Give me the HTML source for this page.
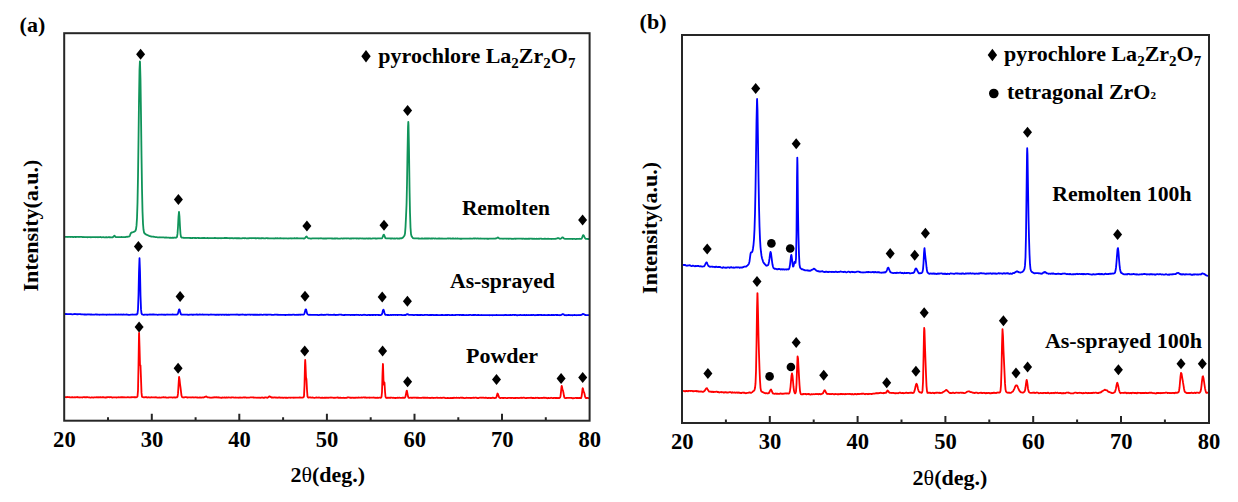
<!DOCTYPE html>
<html><head><meta charset="utf-8"><style>
html,body{margin:0;padding:0;background:#fff;}
body{width:1238px;height:502px;overflow:hidden;}
svg{display:block;}
</style></head><body>
<svg width="1238" height="502" viewBox="0 0 1238 502"><rect width="100%" height="100%" fill="#fff"/><path d="M64.50,236.79 L65.00,236.92 L65.50,236.97 L66.00,236.87 L66.50,236.89 L67.00,236.89 L67.50,236.94 L68.00,237.00 L68.50,236.86 L69.00,236.78 L69.50,236.94 L70.00,236.92 L70.50,237.00 L71.00,236.85 L71.50,236.89 L72.00,236.98 L72.50,236.90 L73.00,237.05 L73.50,237.11 L74.00,236.93 L74.50,236.83 L75.00,236.92 L75.50,237.07 L76.00,237.00 L76.50,236.93 L77.00,236.95 L77.50,236.86 L78.00,236.87 L78.50,236.93 L79.00,236.98 L79.50,236.94 L80.00,236.92 L80.50,236.91 L81.00,236.96 L81.50,236.95 L82.00,236.88 L82.50,237.05 L83.00,237.07 L83.50,237.10 L84.00,237.01 L84.50,237.16 L85.00,237.21 L85.50,237.05 L86.00,237.03 L86.50,237.12 L87.00,237.16 L87.50,237.24 L88.00,237.15 L88.50,237.21 L89.00,237.21 L89.50,237.11 L90.00,237.14 L90.50,237.23 L91.00,237.27 L91.50,237.20 L92.00,237.19 L92.50,237.05 L93.00,237.03 L93.50,237.17 L94.00,237.14 L94.50,237.07 L95.00,237.13 L95.50,237.20 L96.00,237.23 L96.50,237.17 L97.00,237.16 L97.50,237.17 L98.00,237.25 L98.50,237.22 L99.00,237.18 L99.50,237.18 L100.00,237.07 L100.50,237.02 L101.00,237.16 L101.50,237.30 L102.00,237.28 L102.50,237.22 L103.00,237.13 L103.50,237.18 L104.00,237.32 L104.50,237.34 L105.00,237.29 L105.50,237.35 L106.00,237.22 L106.50,237.23 L107.00,237.34 L107.50,237.31 L108.00,237.26 L108.50,237.19 L109.00,237.22 L109.50,237.34 L110.00,237.16 L110.50,237.27 L111.00,237.33 L111.50,237.38 L112.00,237.36 L112.50,237.34 L113.00,237.12 L113.50,236.66 L114.00,235.98 L114.50,235.64 L115.00,236.25 L115.50,236.85 L116.00,237.06 L116.50,237.17 L117.00,237.19 L117.50,237.16 L118.00,237.14 L118.50,237.17 L119.00,237.21 L119.50,237.22 L120.00,237.18 L120.50,237.05 L121.00,237.03 L121.50,236.99 L122.00,237.07 L122.50,237.17 L123.00,237.20 L123.50,237.20 L124.00,237.20 L124.50,237.04 L125.00,237.10 L125.50,237.07 L126.00,236.89 L126.50,236.77 L127.00,236.69 L127.50,236.81 L128.00,236.72 L128.50,236.60 L129.00,236.58 L129.50,236.24 L130.00,235.31 L130.50,233.93 L131.00,233.01 L131.50,232.54 L132.00,232.34 L132.50,232.31 L133.00,232.16 L133.50,231.97 L134.00,231.80 L134.50,231.47 L135.00,231.18 L135.50,230.60 L136.00,229.13 L136.50,225.64 L137.00,218.11 L137.50,202.96 L138.00,176.83 L138.50,140.19 L139.00,100.38 L139.50,70.02 L139.90,61.50 L140.00,61.84 L140.50,79.68 L141.00,115.12 L141.50,155.14 L142.00,188.65 L142.50,211.14 L143.00,223.60 L143.50,229.70 L144.00,232.26 L144.50,233.27 L145.00,233.71 L145.50,234.14 L146.00,234.41 L146.50,234.72 L147.00,234.93 L147.50,235.22 L148.00,235.32 L148.50,235.52 L149.00,235.86 L149.50,236.08 L150.00,236.11 L150.50,236.32 L151.00,236.35 L151.50,236.56 L152.00,236.67 L152.50,236.67 L153.00,236.67 L153.50,236.65 L154.00,236.88 L154.50,236.81 L155.00,237.00 L155.50,237.15 L156.00,237.16 L156.50,237.08 L157.00,237.23 L157.50,237.35 L158.00,237.36 L158.50,237.33 L159.00,237.30 L159.50,237.29 L160.00,237.26 L160.50,237.37 L161.00,237.38 L161.50,237.33 L162.00,237.30 L162.50,237.43 L163.00,237.41 L163.50,237.47 L164.00,237.45 L164.50,237.59 L165.00,237.68 L165.50,237.51 L166.00,237.47 L166.50,237.49 L167.00,237.68 L167.50,237.72 L168.00,237.64 L168.50,237.57 L169.00,237.66 L169.50,237.75 L170.00,237.82 L170.50,237.71 L171.00,237.80 L171.50,237.79 L172.00,237.74 L172.50,237.85 L173.00,237.71 L173.50,237.77 L174.00,237.64 L174.50,237.59 L175.00,237.75 L175.50,237.64 L176.00,237.71 L176.50,237.57 L177.00,236.88 L177.50,233.88 L178.00,226.69 L178.50,216.80 L179.00,211.80 L179.50,216.93 L180.00,226.89 L180.50,234.06 L181.00,236.82 L181.50,237.60 L182.00,237.65 L182.50,237.63 L183.00,237.63 L183.50,237.83 L184.00,237.92 L184.50,237.98 L185.00,237.89 L185.50,237.92 L186.00,237.98 L186.50,237.91 L187.00,237.93 L187.50,237.86 L188.00,237.79 L188.50,237.80 L189.00,237.97 L189.50,237.97 L190.00,238.07 L190.50,238.00 L191.00,237.93 L191.50,238.02 L192.00,238.08 L192.50,237.91 L193.00,237.99 L193.50,237.89 L194.00,237.85 L194.50,238.02 L195.00,237.90 L195.50,237.89 L196.00,238.07 L196.50,238.03 L197.00,237.93 L197.50,237.90 L198.00,237.90 L198.50,238.03 L199.00,237.94 L199.50,238.10 L200.00,238.05 L200.50,238.17 L201.00,238.21 L201.50,238.09 L202.00,238.01 L202.50,238.03 L203.00,237.95 L203.50,238.05 L204.00,237.94 L204.50,237.89 L205.00,238.10 L205.50,238.04 L206.00,238.08 L206.50,238.07 L207.00,238.03 L207.50,237.95 L208.00,238.12 L208.50,238.22 L209.00,238.27 L209.50,238.09 L210.00,238.02 L210.50,238.09 L211.00,238.21 L211.50,238.17 L212.00,238.18 L212.50,238.19 L213.00,238.09 L213.50,238.11 L214.00,238.06 L214.50,238.02 L215.00,237.97 L215.50,237.99 L216.00,238.17 L216.50,238.13 L217.00,238.17 L217.50,238.18 L218.00,238.26 L218.50,238.17 L219.00,238.10 L219.50,238.07 L220.00,238.06 L220.50,238.18 L221.00,238.26 L221.50,238.15 L222.00,238.10 L222.50,238.14 L223.00,238.16 L223.50,238.18 L224.00,238.10 L224.50,238.01 L225.00,238.01 L225.50,237.98 L226.00,238.08 L226.50,238.01 L227.00,237.98 L227.50,238.10 L228.00,238.08 L228.50,238.20 L229.00,238.18 L229.50,238.26 L230.00,238.13 L230.50,238.15 L231.00,238.24 L231.50,238.10 L232.00,238.25 L232.50,238.13 L233.00,238.23 L233.50,238.33 L234.00,238.34 L234.50,238.22 L235.00,238.10 L235.50,238.15 L236.00,238.28 L236.50,238.18 L237.00,238.29 L237.50,238.15 L238.00,238.28 L238.50,238.12 L239.00,238.12 L239.50,238.26 L240.00,238.31 L240.50,238.36 L241.00,238.37 L241.50,238.35 L242.00,238.33 L242.50,238.19 L243.00,238.19 L243.50,238.12 L244.00,238.22 L244.50,238.26 L245.00,238.18 L245.50,238.09 L246.00,238.27 L246.50,238.33 L247.00,238.29 L247.50,238.27 L248.00,238.34 L248.50,238.27 L249.00,238.23 L249.50,238.19 L250.00,238.15 L250.50,238.08 L251.00,238.20 L251.50,238.20 L252.00,238.24 L252.50,238.13 L253.00,238.15 L253.50,238.11 L254.00,238.09 L254.50,238.11 L255.00,238.26 L255.50,238.23 L256.00,238.22 L256.50,238.27 L257.00,238.20 L257.50,238.11 L258.00,238.19 L258.50,238.23 L259.00,238.28 L259.50,238.26 L260.00,238.31 L260.50,238.35 L261.00,238.25 L261.50,238.26 L262.00,238.26 L262.50,238.20 L263.00,238.22 L263.50,238.26 L264.00,238.38 L264.50,238.43 L265.00,238.30 L265.50,238.33 L266.00,238.20 L266.50,238.14 L267.00,238.22 L267.50,238.35 L268.00,238.24 L268.50,238.33 L269.00,238.41 L269.50,238.31 L270.00,238.35 L270.50,238.42 L271.00,238.33 L271.50,238.37 L272.00,238.40 L272.50,238.38 L273.00,238.43 L273.50,238.47 L274.00,238.51 L274.50,238.43 L275.00,238.29 L275.50,238.24 L276.00,238.21 L276.50,238.28 L277.00,238.37 L277.50,238.23 L278.00,238.33 L278.50,238.38 L279.00,238.32 L279.50,238.33 L280.00,238.25 L280.50,238.35 L281.00,238.23 L281.50,238.40 L282.00,238.45 L282.50,238.43 L283.00,238.33 L283.50,238.44 L284.00,238.51 L284.50,238.34 L285.00,238.41 L285.50,238.47 L286.00,238.45 L286.50,238.45 L287.00,238.39 L287.50,238.48 L288.00,238.54 L288.50,238.42 L289.00,238.46 L289.50,238.40 L290.00,238.30 L290.50,238.29 L291.00,238.23 L291.50,238.40 L292.00,238.50 L292.50,238.34 L293.00,238.38 L293.50,238.35 L294.00,238.27 L294.50,238.27 L295.00,238.26 L295.50,238.38 L296.00,238.26 L296.50,238.24 L297.00,238.30 L297.50,238.22 L298.00,238.34 L298.50,238.39 L299.00,238.47 L299.50,238.36 L300.00,238.32 L300.50,238.37 L301.00,238.32 L301.50,238.38 L302.00,238.32 L302.50,238.40 L303.00,238.47 L303.50,238.50 L304.00,238.55 L304.50,238.39 L305.00,238.06 L305.50,237.51 L306.00,236.78 L306.50,236.50 L307.00,236.95 L307.50,237.64 L308.00,238.04 L308.50,238.36 L309.00,238.30 L309.50,238.41 L310.00,238.42 L310.50,238.53 L311.00,238.53 L311.50,238.58 L312.00,238.40 L312.50,238.40 L313.00,238.42 L313.50,238.37 L314.00,238.39 L314.50,238.36 L315.00,238.39 L315.50,238.28 L316.00,238.33 L316.50,238.36 L317.00,238.33 L317.50,238.35 L318.00,238.45 L318.50,238.48 L319.00,238.44 L319.50,238.47 L320.00,238.41 L320.50,238.34 L321.00,238.25 L321.50,238.28 L322.00,238.37 L322.50,238.49 L323.00,238.54 L323.50,238.48 L324.00,238.57 L324.50,238.49 L325.00,238.54 L325.50,238.46 L326.00,238.50 L326.50,238.58 L327.00,238.45 L327.50,238.36 L328.00,238.42 L328.50,238.43 L329.00,238.39 L329.50,238.28 L330.00,238.33 L330.50,238.36 L331.00,238.37 L331.50,238.49 L332.00,238.48 L332.50,238.51 L333.00,238.57 L333.50,238.56 L334.00,238.49 L334.50,238.52 L335.00,238.51 L335.50,238.51 L336.00,238.50 L336.50,238.44 L337.00,238.47 L337.50,238.48 L338.00,238.57 L338.50,238.57 L339.00,238.59 L339.50,238.58 L340.00,238.59 L340.50,238.54 L341.00,238.45 L341.50,238.38 L342.00,238.46 L342.50,238.54 L343.00,238.50 L343.50,238.38 L344.00,238.49 L344.50,238.46 L345.00,238.44 L345.50,238.33 L346.00,238.39 L346.50,238.48 L347.00,238.44 L347.50,238.40 L348.00,238.46 L348.50,238.33 L349.00,238.39 L349.50,238.53 L350.00,238.53 L350.50,238.47 L351.00,238.50 L351.50,238.50 L352.00,238.40 L352.50,238.35 L353.00,238.50 L353.50,238.41 L354.00,238.33 L354.50,238.47 L355.00,238.47 L355.50,238.42 L356.00,238.44 L356.50,238.51 L357.00,238.40 L357.50,238.46 L358.00,238.51 L358.50,238.56 L359.00,238.45 L359.50,238.48 L360.00,238.40 L360.50,238.44 L361.00,238.37 L361.50,238.48 L362.00,238.56 L362.50,238.47 L363.00,238.39 L363.50,238.54 L364.00,238.55 L364.50,238.59 L365.00,238.41 L365.50,238.53 L366.00,238.53 L366.50,238.45 L367.00,238.44 L367.50,238.51 L368.00,238.56 L368.50,238.43 L369.00,238.48 L369.50,238.39 L370.00,238.54 L370.50,238.49 L371.00,238.58 L371.50,238.58 L372.00,238.55 L372.50,238.45 L373.00,238.46 L373.50,238.37 L374.00,238.33 L374.50,238.45 L375.00,238.42 L375.50,238.51 L376.00,238.42 L376.50,238.50 L377.00,238.54 L377.50,238.45 L378.00,238.36 L378.50,238.39 L379.00,238.42 L379.50,238.34 L380.00,238.32 L380.50,238.28 L381.00,238.38 L381.50,238.47 L382.00,238.15 L382.50,237.38 L383.00,236.15 L383.50,234.84 L384.00,234.76 L384.50,235.95 L385.00,237.30 L385.50,238.20 L386.00,238.33 L386.50,238.47 L387.00,238.37 L387.50,238.39 L388.00,238.43 L388.50,238.42 L389.00,238.36 L389.50,238.35 L390.00,238.49 L390.50,238.47 L391.00,238.49 L391.50,238.40 L392.00,238.49 L392.50,238.43 L393.00,238.47 L393.50,238.57 L394.00,238.64 L394.50,238.44 L395.00,238.52 L395.50,238.58 L396.00,238.47 L396.50,238.43 L397.00,238.46 L397.50,238.56 L398.00,238.47 L398.50,238.55 L399.00,238.55 L399.50,238.40 L400.00,238.50 L400.50,238.32 L401.00,238.25 L401.50,238.31 L402.00,238.12 L402.50,237.95 L403.00,237.48 L403.50,236.84 L404.00,236.16 L404.50,235.47 L405.00,233.60 L405.50,227.12 L406.00,217.00 L406.50,205.57 L406.60,202.43 L407.00,184.01 L407.50,153.13 L408.00,127.29 L408.30,121.90 L408.50,124.58 L409.00,150.16 L409.50,186.06 L409.60,192.33 L410.00,212.46 L410.50,227.50 L411.00,234.05 L411.50,235.98 L412.00,236.89 L412.50,237.50 L413.00,238.07 L413.50,238.26 L414.00,238.30 L414.50,238.38 L415.00,238.41 L415.50,238.42 L416.00,238.32 L416.50,238.35 L417.00,238.38 L417.50,238.34 L418.00,238.50 L418.50,238.46 L419.00,238.51 L419.50,238.55 L420.00,238.58 L420.50,238.59 L421.00,238.60 L421.50,238.48 L422.00,238.61 L422.50,238.46 L423.00,238.59 L423.50,238.63 L424.00,238.65 L424.50,238.47 L425.00,238.38 L425.50,238.52 L426.00,238.51 L426.50,238.48 L427.00,238.61 L427.50,238.45 L428.00,238.49 L428.50,238.49 L429.00,238.41 L429.50,238.44 L430.00,238.53 L430.50,238.62 L431.00,238.45 L431.50,238.49 L432.00,238.40 L432.50,238.54 L433.00,238.43 L433.50,238.36 L434.00,238.41 L434.50,238.53 L435.00,238.48 L435.50,238.41 L436.00,238.54 L436.50,238.61 L437.00,238.66 L437.50,238.55 L438.00,238.52 L438.50,238.46 L439.00,238.51 L439.50,238.48 L440.00,238.47 L440.50,238.57 L441.00,238.67 L441.50,238.62 L442.00,238.48 L442.50,238.55 L443.00,238.53 L443.50,238.66 L444.00,238.65 L444.50,238.68 L445.00,238.66 L445.50,238.61 L446.00,238.67 L446.50,238.69 L447.00,238.56 L447.50,238.47 L448.00,238.47 L448.50,238.51 L449.00,238.43 L449.50,238.45 L450.00,238.52 L450.50,238.42 L451.00,238.56 L451.50,238.59 L452.00,238.52 L452.50,238.49 L453.00,238.48 L453.50,238.47 L454.00,238.57 L454.50,238.56 L455.00,238.56 L455.50,238.47 L456.00,238.61 L456.50,238.54 L457.00,238.50 L457.50,238.42 L458.00,238.61 L458.50,238.58 L459.00,238.67 L459.50,238.72 L460.00,238.76 L460.50,238.74 L461.00,238.75 L461.50,238.76 L462.00,238.74 L462.50,238.56 L463.00,238.56 L463.50,238.58 L464.00,238.69 L464.50,238.70 L465.00,238.68 L465.50,238.68 L466.00,238.59 L466.50,238.69 L467.00,238.66 L467.50,238.59 L468.00,238.57 L468.50,238.69 L469.00,238.63 L469.50,238.52 L470.00,238.45 L470.50,238.56 L471.00,238.58 L471.50,238.68 L472.00,238.54 L472.50,238.53 L473.00,238.61 L473.50,238.48 L474.00,238.42 L474.50,238.51 L475.00,238.48 L475.50,238.43 L476.00,238.44 L476.50,238.54 L477.00,238.56 L477.50,238.46 L478.00,238.41 L478.50,238.58 L479.00,238.62 L479.50,238.51 L480.00,238.64 L480.50,238.49 L481.00,238.50 L481.50,238.63 L482.00,238.66 L482.50,238.56 L483.00,238.67 L483.50,238.65 L484.00,238.71 L484.50,238.74 L485.00,238.64 L485.50,238.66 L486.00,238.63 L486.50,238.72 L487.00,238.73 L487.50,238.71 L488.00,238.73 L488.50,238.78 L489.00,238.62 L489.50,238.53 L490.00,238.62 L490.50,238.67 L491.00,238.63 L491.50,238.61 L492.00,238.57 L492.50,238.68 L493.00,238.71 L493.50,238.67 L494.00,238.51 L494.50,238.64 L495.00,238.60 L495.50,238.50 L496.00,238.44 L496.50,238.38 L497.00,237.97 L497.50,237.60 L498.00,237.47 L498.50,237.79 L499.00,238.18 L499.50,238.54 L500.00,238.62 L500.50,238.64 L501.00,238.64 L501.50,238.63 L502.00,238.63 L502.50,238.70 L503.00,238.77 L503.50,238.67 L504.00,238.68 L504.50,238.60 L505.00,238.56 L505.50,238.59 L506.00,238.63 L506.50,238.64 L507.00,238.76 L507.50,238.61 L508.00,238.66 L508.50,238.77 L509.00,238.76 L509.50,238.72 L510.00,238.65 L510.50,238.62 L511.00,238.75 L511.50,238.80 L512.00,238.77 L512.50,238.81 L513.00,238.84 L513.50,238.84 L514.00,238.72 L514.50,238.68 L515.00,238.75 L515.50,238.68 L516.00,238.74 L516.50,238.70 L517.00,238.65 L517.50,238.65 L518.00,238.57 L518.50,238.59 L519.00,238.62 L519.50,238.53 L520.00,238.53 L520.50,238.55 L521.00,238.71 L521.50,238.73 L522.00,238.66 L522.50,238.80 L523.00,238.69 L523.50,238.70 L524.00,238.76 L524.50,238.78 L525.00,238.73 L525.50,238.79 L526.00,238.75 L526.50,238.79 L527.00,238.75 L527.50,238.86 L528.00,238.84 L528.50,238.68 L529.00,238.61 L529.50,238.79 L530.00,238.69 L530.50,238.60 L531.00,238.61 L531.50,238.67 L532.00,238.82 L532.50,238.76 L533.00,238.81 L533.50,238.86 L534.00,238.70 L534.50,238.76 L535.00,238.88 L535.50,238.83 L536.00,238.80 L536.50,238.75 L537.00,238.87 L537.50,238.93 L538.00,238.75 L538.50,238.78 L539.00,238.75 L539.50,238.81 L540.00,238.70 L540.50,238.68 L541.00,238.68 L541.50,238.73 L542.00,238.83 L542.50,238.90 L543.00,238.92 L543.50,238.90 L544.00,238.74 L544.50,238.74 L545.00,238.81 L545.50,238.76 L546.00,238.78 L546.50,238.90 L547.00,238.76 L547.50,238.87 L548.00,238.74 L548.50,238.75 L549.00,238.89 L549.50,238.78 L550.00,238.80 L550.50,238.79 L551.00,238.91 L551.50,238.99 L552.00,238.86 L552.50,238.84 L553.00,238.94 L553.50,238.90 L554.00,238.80 L554.50,238.88 L555.00,238.82 L555.50,238.81 L556.00,238.65 L556.50,238.69 L557.00,238.42 L557.50,238.15 L558.00,238.04 L558.50,238.05 L559.00,238.38 L559.50,238.64 L560.00,238.83 L560.50,238.86 L561.00,238.53 L561.50,238.06 L562.00,237.63 L562.50,237.36 L563.00,237.52 L563.50,238.00 L564.00,238.51 L564.50,238.78 L565.00,238.97 L565.50,238.94 L566.00,238.95 L566.50,238.83 L567.00,238.84 L567.50,238.81 L568.00,238.91 L568.50,238.85 L569.00,238.80 L569.50,238.82 L570.00,238.86 L570.50,238.84 L571.00,238.91 L571.50,238.83 L572.00,238.97 L572.50,238.99 L573.00,238.97 L573.50,238.84 L574.00,238.84 L574.50,238.93 L575.00,238.97 L575.50,239.03 L576.00,239.08 L576.50,238.96 L577.00,238.95 L577.50,238.90 L578.00,238.83 L578.50,238.79 L579.00,238.81 L579.50,238.77 L580.00,238.86 L580.50,238.94 L581.00,238.88 L581.50,238.67 L582.00,237.89 L582.50,236.61 L583.00,235.39 L583.50,235.11 L584.00,235.91 L584.50,237.14 L585.00,238.10 L585.50,238.63 L586.00,238.88 L586.50,238.84 L587.00,238.84 L587.50,238.96 L588.00,239.09 L588.50,239.00 L589.00,239.02 L589.50,239.01" fill="none" stroke="#10945a" stroke-width="1.8" stroke-linejoin="round"/><path d="M64.50,314.14 L65.00,314.22 L65.50,313.99 L66.00,313.89 L66.50,314.07 L67.00,314.14 L67.50,314.15 L68.00,314.06 L68.50,314.10 L69.00,314.13 L69.50,314.14 L70.00,314.02 L70.50,314.05 L71.00,314.05 L71.50,314.16 L72.00,314.30 L72.50,314.36 L73.00,314.27 L73.50,314.20 L74.00,314.12 L74.50,314.01 L75.00,313.96 L75.50,314.07 L76.00,314.08 L76.50,314.11 L77.00,314.29 L77.50,314.27 L78.00,314.27 L78.50,314.18 L79.00,314.08 L79.50,314.12 L80.00,314.09 L80.50,314.19 L81.00,314.39 L81.50,314.40 L82.00,314.26 L82.50,314.40 L83.00,314.45 L83.50,314.46 L84.00,314.52 L84.50,314.52 L85.00,314.52 L85.50,314.40 L86.00,314.53 L86.50,314.60 L87.00,314.39 L87.50,314.47 L88.00,314.50 L88.50,314.45 L89.00,314.45 L89.50,314.44 L90.00,314.57 L90.50,314.51 L91.00,314.58 L91.50,314.48 L92.00,314.59 L92.50,314.66 L93.00,314.56 L93.50,314.55 L94.00,314.66 L94.50,314.65 L95.00,314.58 L95.50,314.47 L96.00,314.46 L96.50,314.56 L97.00,314.46 L97.50,314.63 L98.00,314.53 L98.50,314.68 L99.00,314.58 L99.50,314.73 L100.00,314.73 L100.50,314.67 L101.00,314.64 L101.50,314.67 L102.00,314.66 L102.50,314.58 L103.00,314.51 L103.50,314.56 L104.00,314.72 L104.50,314.70 L105.00,314.53 L105.50,314.67 L106.00,314.71 L106.50,314.79 L107.00,314.61 L107.50,314.69 L108.00,314.52 L108.50,314.62 L109.00,314.55 L109.50,314.51 L110.00,314.68 L110.50,314.54 L111.00,314.59 L111.50,314.72 L112.00,314.60 L112.50,314.53 L113.00,314.70 L113.50,314.64 L114.00,314.71 L114.50,314.53 L115.00,314.55 L115.50,314.50 L116.00,314.62 L116.50,314.51 L117.00,314.71 L117.50,314.54 L118.00,314.66 L118.50,314.51 L119.00,314.51 L119.50,314.67 L120.00,314.56 L120.50,314.51 L121.00,314.64 L121.50,314.62 L122.00,314.50 L122.50,314.73 L123.00,314.59 L123.50,314.49 L124.00,314.53 L124.50,314.63 L125.00,314.72 L125.50,314.58 L126.00,314.57 L126.50,314.48 L127.00,314.56 L127.50,314.69 L128.00,314.75 L128.50,314.83 L129.00,314.82 L129.50,314.85 L130.00,314.82 L130.50,314.73 L131.00,314.62 L131.50,314.69 L132.00,314.62 L132.50,314.52 L133.00,314.57 L133.50,314.72 L134.00,314.56 L134.50,314.61 L135.00,314.57 L135.50,314.58 L136.00,314.44 L136.50,314.59 L137.00,314.34 L137.50,313.62 L138.00,309.36 L138.50,295.27 L139.00,271.67 L139.50,258.20 L140.00,271.52 L140.50,295.18 L141.00,309.15 L141.50,313.36 L142.00,314.29 L142.50,314.46 L143.00,314.67 L143.50,314.77 L144.00,314.84 L144.50,314.66 L145.00,314.63 L145.50,314.56 L146.00,314.63 L146.50,314.68 L147.00,314.76 L147.50,314.77 L148.00,314.64 L148.50,314.63 L149.00,314.65 L149.50,314.51 L150.00,314.44 L150.50,314.53 L151.00,314.48 L151.50,314.64 L152.00,314.57 L152.50,314.50 L153.00,314.48 L153.50,314.49 L154.00,314.49 L154.50,314.58 L155.00,314.61 L155.50,314.58 L156.00,314.66 L156.50,314.57 L157.00,314.74 L157.50,314.84 L158.00,314.82 L158.50,314.72 L159.00,314.69 L159.50,314.70 L160.00,314.54 L160.50,314.57 L161.00,314.62 L161.50,314.54 L162.00,314.48 L162.50,314.66 L163.00,314.61 L163.50,314.64 L164.00,314.77 L164.50,314.74 L165.00,314.63 L165.50,314.79 L166.00,314.68 L166.50,314.52 L167.00,314.64 L167.50,314.52 L168.00,314.53 L168.50,314.69 L169.00,314.72 L169.50,314.53 L170.00,314.57 L170.50,314.58 L171.00,314.60 L171.50,314.53 L172.00,314.61 L172.50,314.50 L173.00,314.50 L173.50,314.53 L174.00,314.71 L174.50,314.54 L175.00,314.66 L175.50,314.55 L176.00,314.60 L176.50,314.56 L177.00,314.51 L177.50,314.33 L178.00,313.38 L178.50,311.50 L179.00,309.62 L179.50,309.37 L180.00,311.20 L180.50,313.13 L181.00,314.31 L181.50,314.65 L182.00,314.52 L182.50,314.62 L183.00,314.70 L183.50,314.72 L184.00,314.67 L184.50,314.60 L185.00,314.60 L185.50,314.70 L186.00,314.59 L186.50,314.61 L187.00,314.61 L187.50,314.75 L188.00,314.77 L188.50,314.82 L189.00,314.82 L189.50,314.65 L190.00,314.55 L190.50,314.58 L191.00,314.52 L191.50,314.54 L192.00,314.63 L192.50,314.75 L193.00,314.70 L193.50,314.75 L194.00,314.56 L194.50,314.54 L195.00,314.72 L195.50,314.56 L196.00,314.56 L196.50,314.45 L197.00,314.40 L197.50,314.62 L198.00,314.76 L198.50,314.72 L199.00,314.55 L199.50,314.51 L200.00,314.48 L200.50,314.59 L201.00,314.65 L201.50,314.61 L202.00,314.61 L202.50,314.49 L203.00,314.56 L203.50,314.72 L204.00,314.74 L204.50,314.55 L205.00,314.59 L205.50,314.66 L206.00,314.57 L206.50,314.71 L207.00,314.65 L207.50,314.69 L208.00,314.63 L208.50,314.77 L209.00,314.78 L209.50,314.72 L210.00,314.56 L210.50,314.58 L211.00,314.46 L211.50,314.57 L212.00,314.71 L212.50,314.57 L213.00,314.60 L213.50,314.61 L214.00,314.59 L214.50,314.67 L215.00,314.78 L215.50,314.77 L216.00,314.69 L216.50,314.80 L217.00,314.67 L217.50,314.73 L218.00,314.73 L218.50,314.76 L219.00,314.81 L219.50,314.64 L220.00,314.68 L220.50,314.63 L221.00,314.69 L221.50,314.81 L222.00,314.77 L222.50,314.56 L223.00,314.59 L223.50,314.68 L224.00,314.78 L224.50,314.76 L225.00,314.80 L225.50,314.58 L226.00,314.75 L226.50,314.77 L227.00,314.74 L227.50,314.82 L228.00,314.85 L228.50,314.64 L229.00,314.74 L229.50,314.78 L230.00,314.63 L230.50,314.72 L231.00,314.72 L231.50,314.60 L232.00,314.72 L232.50,314.59 L233.00,314.66 L233.50,314.64 L234.00,314.58 L234.50,314.65 L235.00,314.65 L235.50,314.57 L236.00,314.76 L236.50,314.59 L237.00,314.48 L237.50,314.58 L238.00,314.73 L238.50,314.75 L239.00,314.79 L239.50,314.73 L240.00,314.76 L240.50,314.67 L241.00,314.61 L241.50,314.65 L242.00,314.52 L242.50,314.48 L243.00,314.66 L243.50,314.58 L244.00,314.71 L244.50,314.78 L245.00,314.71 L245.50,314.75 L246.00,314.81 L246.50,314.86 L247.00,314.67 L247.50,314.58 L248.00,314.60 L248.50,314.64 L249.00,314.61 L249.50,314.51 L250.00,314.62 L250.50,314.80 L251.00,314.71 L251.50,314.72 L252.00,314.68 L252.50,314.67 L253.00,314.80 L253.50,314.70 L254.00,314.75 L254.50,314.72 L255.00,314.73 L255.50,314.84 L256.00,314.65 L256.50,314.78 L257.00,314.69 L257.50,314.75 L258.00,314.82 L258.50,314.81 L259.00,314.73 L259.50,314.83 L260.00,314.65 L260.50,314.73 L261.00,314.69 L261.50,314.72 L262.00,314.83 L262.50,314.87 L263.00,314.83 L263.50,314.72 L264.00,314.65 L264.50,314.68 L265.00,314.62 L265.50,314.61 L266.00,314.81 L266.50,314.65 L267.00,314.79 L267.50,314.73 L268.00,314.69 L268.50,314.66 L269.00,314.57 L269.50,314.64 L270.00,314.59 L270.50,314.65 L271.00,314.63 L271.50,314.81 L272.00,314.90 L272.50,314.81 L273.00,314.82 L273.50,314.91 L274.00,314.78 L274.50,314.64 L275.00,314.62 L275.50,314.59 L276.00,314.73 L276.50,314.70 L277.00,314.69 L277.50,314.81 L278.00,314.70 L278.50,314.82 L279.00,314.83 L279.50,314.77 L280.00,314.86 L280.50,314.76 L281.00,314.88 L281.50,314.95 L282.00,314.86 L282.50,314.87 L283.00,314.95 L283.50,314.93 L284.00,314.93 L284.50,314.96 L285.00,314.99 L285.50,314.96 L286.00,315.01 L286.50,314.83 L287.00,314.84 L287.50,314.86 L288.00,314.78 L288.50,314.75 L289.00,314.66 L289.50,314.86 L290.00,314.78 L290.50,314.77 L291.00,314.89 L291.50,314.74 L292.00,314.90 L292.50,314.73 L293.00,314.62 L293.50,314.66 L294.00,314.68 L294.50,314.86 L295.00,314.94 L295.50,314.94 L296.00,314.85 L296.50,314.83 L297.00,314.73 L297.50,314.86 L298.00,314.79 L298.50,314.73 L299.00,314.80 L299.50,314.69 L300.00,314.69 L300.50,314.87 L301.00,314.71 L301.50,314.64 L302.00,314.63 L302.50,314.63 L303.00,314.67 L303.50,314.59 L304.00,314.31 L304.50,313.33 L305.00,311.43 L305.50,309.58 L306.00,309.32 L306.50,311.06 L307.00,313.20 L307.50,314.19 L308.00,314.53 L308.50,314.80 L309.00,314.79 L309.50,314.88 L310.00,314.74 L310.50,314.78 L311.00,314.90 L311.50,314.81 L312.00,314.90 L312.50,314.89 L313.00,314.83 L313.50,314.97 L314.00,314.87 L314.50,314.84 L315.00,314.87 L315.50,314.79 L316.00,314.91 L316.50,314.90 L317.00,314.89 L317.50,314.88 L318.00,315.00 L318.50,315.07 L319.00,315.05 L319.50,314.93 L320.00,314.86 L320.50,314.86 L321.00,314.71 L321.50,314.66 L322.00,314.90 L322.50,314.76 L323.00,314.94 L323.50,314.95 L324.00,315.02 L324.50,314.81 L325.00,314.77 L325.50,314.90 L326.00,314.73 L326.50,314.67 L327.00,314.72 L327.50,314.69 L328.00,314.67 L328.50,314.81 L329.00,314.71 L329.50,314.93 L330.00,314.94 L330.50,314.77 L331.00,314.93 L331.50,314.82 L332.00,314.84 L332.50,314.87 L333.00,314.76 L333.50,314.81 L334.00,314.71 L334.50,314.70 L335.00,314.91 L335.50,314.99 L336.00,314.94 L336.50,314.96 L337.00,315.03 L337.50,314.84 L338.00,314.86 L338.50,314.76 L339.00,314.70 L339.50,314.67 L340.00,314.69 L340.50,314.65 L341.00,314.68 L341.50,314.75 L342.00,314.85 L342.50,314.98 L343.00,315.05 L343.50,315.04 L344.00,314.96 L344.50,315.05 L345.00,314.87 L345.50,314.76 L346.00,314.92 L346.50,314.95 L347.00,314.83 L347.50,314.83 L348.00,314.80 L348.50,314.83 L349.00,314.84 L349.50,314.84 L350.00,314.96 L350.50,315.02 L351.00,314.98 L351.50,314.93 L352.00,314.85 L352.50,314.96 L353.00,315.08 L353.50,314.91 L354.00,314.97 L354.50,315.00 L355.00,315.00 L355.50,314.82 L356.00,314.88 L356.50,314.81 L357.00,314.77 L357.50,314.87 L358.00,314.93 L358.50,314.96 L359.00,315.01 L359.50,315.03 L360.00,314.97 L360.50,314.81 L361.00,314.95 L361.50,315.03 L362.00,315.08 L362.50,315.03 L363.00,314.84 L363.50,314.79 L364.00,314.74 L364.50,314.88 L365.00,314.92 L365.50,314.83 L366.00,315.02 L366.50,315.12 L367.00,315.15 L367.50,315.03 L368.00,314.92 L368.50,314.84 L369.00,314.99 L369.50,315.02 L370.00,314.91 L370.50,315.05 L371.00,315.02 L371.50,314.95 L372.00,314.92 L372.50,315.00 L373.00,314.96 L373.50,315.00 L374.00,314.86 L374.50,314.96 L375.00,314.89 L375.50,315.04 L376.00,314.91 L376.50,314.88 L377.00,314.93 L377.50,314.90 L378.00,314.93 L378.50,315.07 L379.00,314.92 L379.50,315.01 L380.00,315.03 L380.50,315.07 L381.00,314.94 L381.50,314.70 L382.00,313.91 L382.50,312.30 L383.00,310.30 L383.50,309.61 L384.00,311.03 L384.50,312.96 L385.00,314.27 L385.50,314.80 L386.00,314.86 L386.50,314.82 L387.00,314.92 L387.50,315.05 L388.00,314.93 L388.50,314.98 L389.00,315.03 L389.50,315.12 L390.00,315.10 L390.50,314.98 L391.00,314.89 L391.50,315.04 L392.00,314.95 L392.50,314.82 L393.00,315.01 L393.50,314.91 L394.00,314.89 L394.50,314.89 L395.00,314.86 L395.50,314.99 L396.00,314.95 L396.50,314.95 L397.00,314.95 L397.50,315.07 L398.00,314.89 L398.50,314.97 L399.00,314.87 L399.50,314.83 L400.00,314.95 L400.50,314.94 L401.00,314.84 L401.50,314.94 L402.00,315.10 L402.50,315.09 L403.00,315.04 L403.50,315.11 L404.00,315.18 L404.50,314.98 L405.00,314.91 L405.50,315.02 L406.00,314.92 L406.50,314.43 L407.00,314.17 L407.50,314.15 L408.00,314.33 L408.50,314.68 L409.00,314.89 L409.50,314.90 L410.00,314.88 L410.50,314.81 L411.00,314.96 L411.50,314.87 L412.00,314.98 L412.50,314.96 L413.00,314.96 L413.50,315.13 L414.00,315.03 L414.50,315.01 L415.00,314.97 L415.50,314.91 L416.00,314.87 L416.50,314.95 L417.00,315.07 L417.50,314.92 L418.00,315.10 L418.50,315.11 L419.00,314.92 L419.50,315.03 L420.00,314.99 L420.50,315.00 L421.00,314.89 L421.50,314.95 L422.00,314.99 L422.50,315.08 L423.00,315.07 L423.50,315.10 L424.00,315.13 L424.50,314.99 L425.00,314.86 L425.50,314.93 L426.00,314.86 L426.50,314.83 L427.00,314.87 L427.50,314.95 L428.00,315.02 L428.50,315.06 L429.00,315.17 L429.50,314.97 L430.00,315.01 L430.50,314.89 L431.00,315.00 L431.50,314.99 L432.00,314.90 L432.50,314.90 L433.00,315.01 L433.50,315.00 L434.00,315.14 L434.50,315.04 L435.00,314.98 L435.50,315.13 L436.00,315.10 L436.50,314.94 L437.00,315.07 L437.50,315.00 L438.00,315.15 L438.50,315.12 L439.00,315.16 L439.50,315.21 L440.00,315.12 L440.50,315.21 L441.00,314.97 L441.50,314.95 L442.00,315.09 L442.50,314.91 L443.00,315.02 L443.50,315.17 L444.00,315.16 L444.50,315.20 L445.00,314.99 L445.50,315.02 L446.00,315.05 L446.50,315.02 L447.00,315.00 L447.50,315.10 L448.00,314.96 L448.50,314.86 L449.00,314.97 L449.50,315.14 L450.00,315.18 L450.50,315.16 L451.00,315.03 L451.50,315.15 L452.00,314.95 L452.50,314.91 L453.00,315.06 L453.50,315.16 L454.00,315.07 L454.50,315.17 L455.00,314.98 L455.50,315.04 L456.00,314.90 L456.50,314.89 L457.00,314.87 L457.50,314.80 L458.00,314.89 L458.50,314.96 L459.00,314.93 L459.50,315.03 L460.00,314.89 L460.50,314.97 L461.00,315.01 L461.50,314.99 L462.00,315.14 L462.50,314.97 L463.00,314.98 L463.50,315.00 L464.00,314.98 L464.50,315.15 L465.00,315.11 L465.50,315.08 L466.00,315.04 L466.50,315.02 L467.00,315.16 L467.50,315.19 L468.00,315.16 L468.50,315.00 L469.00,315.04 L469.50,314.93 L470.00,314.94 L470.50,314.84 L471.00,315.00 L471.50,315.16 L472.00,315.14 L472.50,315.11 L473.00,315.00 L473.50,315.00 L474.00,315.01 L474.50,315.00 L475.00,314.95 L475.50,314.91 L476.00,315.05 L476.50,315.18 L477.00,315.21 L477.50,315.16 L478.00,314.96 L478.50,314.94 L479.00,315.09 L479.50,315.21 L480.00,315.14 L480.50,315.11 L481.00,315.13 L481.50,315.01 L482.00,315.09 L482.50,315.03 L483.00,315.14 L483.50,315.08 L484.00,315.11 L484.50,315.09 L485.00,315.08 L485.50,315.05 L486.00,315.18 L486.50,315.19 L487.00,315.09 L487.50,315.07 L488.00,315.18 L488.50,315.19 L489.00,315.16 L489.50,315.24 L490.00,315.03 L490.50,315.07 L491.00,315.10 L491.50,315.06 L492.00,315.19 L492.50,315.26 L493.00,315.12 L493.50,315.12 L494.00,315.16 L494.50,315.17 L495.00,315.07 L495.50,315.15 L496.00,315.05 L496.50,314.95 L497.00,315.05 L497.50,315.09 L498.00,315.05 L498.50,315.05 L499.00,315.20 L499.50,315.22 L500.00,315.11 L500.50,315.20 L501.00,315.15 L501.50,315.07 L502.00,315.11 L502.50,315.17 L503.00,315.23 L503.50,315.19 L504.00,315.17 L504.50,315.08 L505.00,314.93 L505.50,314.98 L506.00,314.90 L506.50,315.11 L507.00,315.04 L507.50,315.08 L508.00,315.14 L508.50,315.00 L509.00,315.13 L509.50,315.04 L510.00,314.92 L510.50,315.02 L511.00,315.01 L511.50,315.16 L512.00,315.09 L512.50,314.95 L513.00,314.86 L513.50,314.82 L514.00,314.94 L514.50,315.06 L515.00,314.93 L515.50,314.94 L516.00,315.00 L516.50,315.15 L517.00,315.25 L517.50,315.27 L518.00,315.21 L518.50,315.16 L519.00,315.03 L519.50,315.08 L520.00,314.97 L520.50,314.96 L521.00,315.11 L521.50,315.11 L522.00,315.15 L522.50,315.10 L523.00,315.02 L523.50,315.04 L524.00,315.08 L524.50,314.99 L525.00,315.13 L525.50,315.24 L526.00,315.06 L526.50,314.99 L527.00,315.12 L527.50,315.16 L528.00,315.03 L528.50,315.08 L529.00,314.99 L529.50,315.14 L530.00,315.13 L530.50,315.10 L531.00,314.98 L531.50,315.00 L532.00,315.03 L532.50,315.01 L533.00,314.94 L533.50,314.92 L534.00,315.05 L534.50,315.19 L535.00,315.23 L535.50,315.19 L536.00,315.22 L536.50,315.03 L537.00,314.97 L537.50,315.08 L538.00,314.93 L538.50,314.88 L539.00,315.06 L539.50,314.97 L540.00,314.93 L540.50,314.97 L541.00,315.12 L541.50,314.95 L542.00,315.13 L542.50,315.04 L543.00,315.08 L543.50,315.07 L544.00,314.96 L544.50,315.16 L545.00,315.02 L545.50,315.14 L546.00,315.22 L546.50,315.14 L547.00,315.24 L547.50,315.03 L548.00,314.95 L548.50,315.01 L549.00,314.92 L549.50,315.09 L550.00,315.09 L550.50,315.18 L551.00,315.06 L551.50,314.93 L552.00,315.12 L552.50,315.01 L553.00,315.02 L553.50,314.94 L554.00,315.04 L554.50,315.05 L555.00,314.97 L555.50,314.89 L556.00,314.94 L556.50,315.09 L557.00,314.98 L557.50,314.95 L558.00,315.05 L558.50,315.11 L559.00,315.18 L559.50,315.18 L560.00,315.23 L560.50,315.04 L561.00,315.13 L561.50,314.78 L562.00,314.43 L562.50,314.05 L563.00,314.07 L563.50,314.24 L564.00,314.71 L564.50,315.08 L565.00,315.25 L565.50,315.22 L566.00,315.11 L566.50,315.24 L567.00,315.23 L567.50,315.07 L568.00,315.09 L568.50,314.95 L569.00,314.87 L569.50,315.02 L570.00,315.12 L570.50,315.21 L571.00,315.23 L571.50,315.05 L572.00,315.14 L572.50,315.26 L573.00,315.23 L573.50,315.15 L574.00,315.06 L574.50,314.94 L575.00,315.06 L575.50,315.21 L576.00,315.04 L576.50,315.16 L577.00,315.24 L577.50,315.12 L578.00,315.21 L578.50,315.05 L579.00,315.01 L579.50,315.07 L580.00,315.19 L580.50,315.13 L581.00,314.92 L581.50,314.92 L582.00,314.56 L582.50,314.20 L583.00,313.87 L583.50,314.03 L584.00,314.34 L584.50,314.67 L585.00,314.91 L585.50,315.00 L586.00,315.10 L586.50,315.20 L587.00,315.10 L587.50,315.22 L588.00,315.21 L588.50,315.11 L589.00,315.01 L589.50,315.19" fill="none" stroke="#0000ff" stroke-width="1.8" stroke-linejoin="round"/><path d="M64.50,397.10 L65.00,397.17 L65.50,397.13 L66.00,397.21 L66.50,397.26 L67.00,397.06 L67.50,396.94 L68.00,397.21 L68.50,397.11 L69.00,397.06 L69.50,397.33 L70.00,397.26 L70.50,397.37 L71.00,397.28 L71.50,397.31 L72.00,397.12 L72.50,397.23 L73.00,397.37 L73.50,397.31 L74.00,397.36 L74.50,397.36 L75.00,397.12 L75.50,397.28 L76.00,397.29 L76.50,397.18 L77.00,397.02 L77.50,397.27 L78.00,397.24 L78.50,397.32 L79.00,397.43 L79.50,397.42 L80.00,397.50 L80.50,397.32 L81.00,397.40 L81.50,397.30 L82.00,397.44 L82.50,397.49 L83.00,397.21 L83.50,397.08 L84.00,397.05 L84.50,397.33 L85.00,397.26 L85.50,397.31 L86.00,397.20 L86.50,397.23 L87.00,397.19 L87.50,397.16 L88.00,397.24 L88.50,397.28 L89.00,397.43 L89.50,397.42 L90.00,397.51 L90.50,397.53 L91.00,397.59 L91.50,397.49 L92.00,397.24 L92.50,397.40 L93.00,397.52 L93.50,397.55 L94.00,397.44 L94.50,397.44 L95.00,397.24 L95.50,397.39 L96.00,397.36 L96.50,397.23 L97.00,397.08 L97.50,397.32 L98.00,397.49 L98.50,397.22 L99.00,397.37 L99.50,397.29 L100.00,397.14 L100.50,397.13 L101.00,397.31 L101.50,397.45 L102.00,397.18 L102.50,397.28 L103.00,397.10 L103.50,397.28 L104.00,397.22 L104.50,397.41 L105.00,397.54 L105.50,397.42 L106.00,397.55 L106.50,397.35 L107.00,397.15 L107.50,397.26 L108.00,397.09 L108.50,397.07 L109.00,397.15 L109.50,397.27 L110.00,397.15 L110.50,397.04 L111.00,397.32 L111.50,397.24 L112.00,397.45 L112.50,397.54 L113.00,397.37 L113.50,397.32 L114.00,397.32 L114.50,397.37 L115.00,397.38 L115.50,397.37 L116.00,397.39 L116.50,397.53 L117.00,397.42 L117.50,397.34 L118.00,397.42 L118.50,397.26 L119.00,397.21 L119.50,397.46 L120.00,397.40 L120.50,397.38 L121.00,397.15 L121.50,397.20 L122.00,397.30 L122.50,397.12 L123.00,397.27 L123.50,397.35 L124.00,397.16 L124.50,397.29 L125.00,397.30 L125.50,397.38 L126.00,397.30 L126.50,397.40 L127.00,397.46 L127.50,397.20 L128.00,397.09 L128.50,397.28 L129.00,397.49 L129.50,397.31 L130.00,397.30 L130.50,397.35 L131.00,397.26 L131.50,397.24 L132.00,397.20 L132.50,397.21 L133.00,397.29 L133.50,397.22 L134.00,397.20 L134.50,397.35 L135.00,397.11 L135.50,397.20 L136.00,397.29 L136.50,397.12 L137.00,396.93 L137.50,396.53 L138.00,390.59 L138.50,365.22 L139.00,334.24 L139.10,332.80 L139.50,346.01 L140.00,365.03 L140.50,365.48 L141.00,378.59 L141.50,392.64 L142.00,396.81 L142.50,397.08 L143.00,397.12 L143.50,397.27 L144.00,397.45 L144.50,397.37 L145.00,397.24 L145.50,397.14 L146.00,397.25 L146.50,397.18 L147.00,397.39 L147.50,397.51 L148.00,397.31 L148.50,397.25 L149.00,397.43 L149.50,397.46 L150.00,397.54 L150.50,397.40 L151.00,397.24 L151.50,397.23 L152.00,397.42 L152.50,397.31 L153.00,397.29 L153.50,397.31 L154.00,397.32 L154.50,397.32 L155.00,397.52 L155.50,397.32 L156.00,397.16 L156.50,397.46 L157.00,397.58 L157.50,397.69 L158.00,397.52 L158.50,397.64 L159.00,397.69 L159.50,397.44 L160.00,397.52 L160.50,397.60 L161.00,397.57 L161.50,397.50 L162.00,397.37 L162.50,397.33 L163.00,397.26 L163.50,397.17 L164.00,397.33 L164.50,397.29 L165.00,397.48 L165.50,397.27 L166.00,397.50 L166.50,397.54 L167.00,397.65 L167.50,397.69 L168.00,397.72 L168.50,397.60 L169.00,397.32 L169.50,397.47 L170.00,397.32 L170.50,397.29 L171.00,397.42 L171.50,397.43 L172.00,397.39 L172.50,397.58 L173.00,397.55 L173.50,397.42 L174.00,397.32 L174.50,397.51 L175.00,397.45 L175.50,397.53 L176.00,397.39 L176.50,397.25 L177.00,397.25 L177.50,396.87 L178.00,393.66 L178.50,385.56 L179.00,377.54 L179.10,376.79 L179.50,379.08 L180.00,383.87 L180.40,386.51 L180.50,387.36 L181.00,391.72 L181.50,395.56 L182.00,396.94 L182.50,397.29 L183.00,397.33 L183.50,397.37 L184.00,397.52 L184.50,397.28 L185.00,397.19 L185.50,397.17 L186.00,397.16 L186.50,397.14 L187.00,397.49 L187.50,397.62 L188.00,397.38 L188.50,397.42 L189.00,397.37 L189.50,397.35 L190.00,397.35 L190.50,397.47 L191.00,397.51 L191.50,397.44 L192.00,397.33 L192.50,397.34 L193.00,397.26 L193.50,397.39 L194.00,397.52 L194.50,397.46 L195.00,397.30 L195.50,397.27 L196.00,397.33 L196.50,397.45 L197.00,397.58 L197.50,397.49 L198.00,397.61 L198.50,397.60 L199.00,397.52 L199.50,397.46 L200.00,397.48 L200.50,397.57 L201.00,397.50 L201.50,397.58 L202.00,397.52 L202.50,397.41 L203.00,397.46 L203.50,397.55 L204.00,397.30 L204.50,397.19 L205.00,396.91 L205.50,396.69 L206.00,396.55 L206.50,396.50 L207.00,397.02 L207.50,397.41 L208.00,397.42 L208.50,397.47 L209.00,397.35 L209.50,397.56 L210.00,397.60 L210.50,397.71 L211.00,397.73 L211.50,397.69 L212.00,397.70 L212.50,397.63 L213.00,397.42 L213.50,397.50 L214.00,397.31 L214.50,397.27 L215.00,397.51 L215.50,397.33 L216.00,397.26 L216.50,397.23 L217.00,397.53 L217.50,397.40 L218.00,397.27 L218.50,397.54 L219.00,397.38 L219.50,397.59 L220.00,397.63 L220.50,397.71 L221.00,397.80 L221.50,397.70 L222.00,397.74 L222.50,397.45 L223.00,397.60 L223.50,397.57 L224.00,397.64 L224.50,397.43 L225.00,397.58 L225.50,397.73 L226.00,397.46 L226.50,397.43 L227.00,397.51 L227.50,397.66 L228.00,397.50 L228.50,397.39 L229.00,397.37 L229.50,397.50 L230.00,397.62 L230.50,397.54 L231.00,397.49 L231.50,397.48 L232.00,397.45 L232.50,397.47 L233.00,397.34 L233.50,397.45 L234.00,397.69 L234.50,397.58 L235.00,397.67 L235.50,397.47 L236.00,397.59 L236.50,397.68 L237.00,397.68 L237.50,397.63 L238.00,397.59 L238.50,397.63 L239.00,397.75 L239.50,397.52 L240.00,397.38 L240.50,397.57 L241.00,397.73 L241.50,397.65 L242.00,397.59 L242.50,397.66 L243.00,397.49 L243.50,397.43 L244.00,397.38 L244.50,397.51 L245.00,397.46 L245.50,397.41 L246.00,397.57 L246.50,397.75 L247.00,397.58 L247.50,397.66 L248.00,397.58 L248.50,397.72 L249.00,397.68 L249.50,397.53 L250.00,397.44 L250.50,397.32 L251.00,397.44 L251.50,397.46 L252.00,397.39 L252.50,397.43 L253.00,397.43 L253.50,397.62 L254.00,397.46 L254.50,397.72 L255.00,397.64 L255.50,397.65 L256.00,397.60 L256.50,397.73 L257.00,397.79 L257.50,397.71 L258.00,397.64 L258.50,397.70 L259.00,397.79 L259.50,397.65 L260.00,397.71 L260.50,397.84 L261.00,397.70 L261.50,397.54 L262.00,397.46 L262.50,397.61 L263.00,397.67 L263.50,397.82 L264.00,397.85 L264.50,397.62 L265.00,397.48 L265.50,397.44 L266.00,397.39 L266.50,397.57 L267.00,397.71 L267.50,397.74 L268.00,397.36 L268.50,397.16 L269.00,396.60 L269.50,396.37 L270.00,396.67 L270.50,396.88 L271.00,397.12 L271.50,397.54 L272.00,397.51 L272.50,397.51 L273.00,397.59 L273.50,397.67 L274.00,397.44 L274.50,397.46 L275.00,397.51 L275.50,397.55 L276.00,397.47 L276.50,397.57 L277.00,397.78 L277.50,397.65 L278.00,397.65 L278.50,397.48 L279.00,397.46 L279.50,397.60 L280.00,397.46 L280.50,397.69 L281.00,397.82 L281.50,397.56 L282.00,397.77 L282.50,397.64 L283.00,397.74 L283.50,397.79 L284.00,397.62 L284.50,397.69 L285.00,397.72 L285.50,397.80 L286.00,397.62 L286.50,397.72 L287.00,397.86 L287.50,397.81 L288.00,397.74 L288.50,397.53 L289.00,397.58 L289.50,397.55 L290.00,397.68 L290.50,397.73 L291.00,397.71 L291.50,397.54 L292.00,397.65 L292.50,397.69 L293.00,397.54 L293.50,397.74 L294.00,397.75 L294.50,397.54 L295.00,397.76 L295.50,397.55 L296.00,397.53 L296.50,397.67 L297.00,397.69 L297.50,397.68 L298.00,397.72 L298.50,397.66 L299.00,397.57 L299.50,397.47 L300.00,397.37 L300.50,397.58 L301.00,397.69 L301.50,397.66 L302.00,397.71 L302.50,397.57 L303.00,397.43 L303.50,397.31 L304.00,396.10 L304.50,385.34 L305.00,363.67 L305.20,360.00 L305.50,364.99 L306.00,377.19 L306.40,379.04 L306.50,379.96 L307.00,389.99 L307.50,396.48 L308.00,397.45 L308.50,397.69 L309.00,397.50 L309.50,397.47 L310.00,397.39 L310.50,397.36 L311.00,397.61 L311.50,397.72 L312.00,397.56 L312.50,397.48 L313.00,397.54 L313.50,397.70 L314.00,397.80 L314.50,397.83 L315.00,397.79 L315.50,397.58 L316.00,397.59 L316.50,397.50 L317.00,397.60 L317.50,397.66 L318.00,397.55 L318.50,397.51 L319.00,397.71 L319.50,397.50 L320.00,397.71 L320.50,397.85 L321.00,397.94 L321.50,397.77 L322.00,397.74 L322.50,397.75 L323.00,397.77 L323.50,397.92 L324.00,397.87 L324.50,397.70 L325.00,397.84 L325.50,397.76 L326.00,397.76 L326.50,397.82 L327.00,397.55 L327.50,397.73 L328.00,397.78 L328.50,397.73 L329.00,397.72 L329.50,397.69 L330.00,397.57 L330.50,397.64 L331.00,397.48 L331.50,397.59 L332.00,397.70 L332.50,397.68 L333.00,397.71 L333.50,397.89 L334.00,397.95 L334.50,397.68 L335.00,397.81 L335.50,397.80 L336.00,397.57 L336.50,397.58 L337.00,397.54 L337.50,397.45 L338.00,397.60 L338.50,397.82 L339.00,397.69 L339.50,397.85 L340.00,397.86 L340.50,397.64 L341.00,397.82 L341.50,397.81 L342.00,397.93 L342.50,397.91 L343.00,397.91 L343.50,397.75 L344.00,397.85 L344.50,397.96 L345.00,397.98 L345.50,397.82 L346.00,397.87 L346.50,397.79 L347.00,397.60 L347.50,397.48 L348.00,397.43 L348.50,397.46 L349.00,397.45 L349.50,397.59 L350.00,397.74 L350.50,397.75 L351.00,397.70 L351.50,397.78 L352.00,397.67 L352.50,397.69 L353.00,397.81 L353.50,397.73 L354.00,397.60 L354.50,397.83 L355.00,397.87 L355.50,397.75 L356.00,397.69 L356.50,397.72 L357.00,397.77 L357.50,397.64 L358.00,397.49 L358.50,397.50 L359.00,397.73 L359.50,397.59 L360.00,397.65 L360.50,397.57 L361.00,397.54 L361.50,397.51 L362.00,397.59 L362.50,397.53 L363.00,397.45 L363.50,397.44 L364.00,397.46 L364.50,397.60 L365.00,397.50 L365.50,397.43 L366.00,397.57 L366.50,397.62 L367.00,397.77 L367.50,397.58 L368.00,397.62 L368.50,397.65 L369.00,397.51 L369.50,397.82 L370.00,397.67 L370.50,397.55 L371.00,397.64 L371.50,397.56 L372.00,397.71 L372.50,397.67 L373.00,397.56 L373.50,397.48 L374.00,397.71 L374.50,397.64 L375.00,397.81 L375.50,397.77 L376.00,397.93 L376.50,397.76 L377.00,397.65 L377.50,397.60 L378.00,397.80 L378.50,397.81 L379.00,397.71 L379.50,397.54 L380.00,397.69 L380.50,397.85 L381.00,397.74 L381.50,397.03 L382.00,392.03 L382.50,374.20 L382.90,364.00 L383.00,364.36 L383.50,380.24 L384.00,384.97 L384.40,382.39 L384.50,382.79 L385.00,391.24 L385.50,396.73 L386.00,397.76 L386.50,397.94 L387.00,398.02 L387.50,397.70 L388.00,397.65 L388.50,397.75 L389.00,397.93 L389.50,397.69 L390.00,397.65 L390.50,397.85 L391.00,397.66 L391.50,397.67 L392.00,397.66 L392.50,397.79 L393.00,397.96 L393.50,397.74 L394.00,397.86 L394.50,397.92 L395.00,397.99 L395.50,397.91 L396.00,398.02 L396.50,397.85 L397.00,397.78 L397.50,397.68 L398.00,397.85 L398.50,397.81 L399.00,397.71 L399.50,397.62 L400.00,397.79 L400.50,397.84 L401.00,397.90 L401.50,397.80 L402.00,397.79 L402.50,397.65 L403.00,397.80 L403.50,397.60 L404.00,397.67 L404.50,397.79 L405.00,397.64 L405.50,396.49 L406.00,394.04 L406.50,391.34 L406.80,390.60 L407.00,391.11 L407.50,393.82 L408.00,396.36 L408.50,397.65 L409.00,397.93 L409.50,397.81 L410.00,397.75 L410.50,397.60 L411.00,397.66 L411.50,397.92 L412.00,397.70 L412.50,397.78 L413.00,397.64 L413.50,397.56 L414.00,397.74 L414.50,397.67 L415.00,397.56 L415.50,397.55 L416.00,397.74 L416.50,397.81 L417.00,397.62 L417.50,397.61 L418.00,397.90 L418.50,397.75 L419.00,397.81 L419.50,397.78 L420.00,397.91 L420.50,397.91 L421.00,397.98 L421.50,397.91 L422.00,397.74 L422.50,397.65 L423.00,397.57 L423.50,397.83 L424.00,397.67 L424.50,397.56 L425.00,397.88 L425.50,397.73 L426.00,397.94 L426.50,397.72 L427.00,397.76 L427.50,397.68 L428.00,397.89 L428.50,397.90 L429.00,397.92 L429.50,397.98 L430.00,398.06 L430.50,397.88 L431.00,397.90 L431.50,397.84 L432.00,397.68 L432.50,397.89 L433.00,397.90 L433.50,397.99 L434.00,397.80 L434.50,397.83 L435.00,397.82 L435.50,397.92 L436.00,397.71 L436.50,397.71 L437.00,397.77 L437.50,397.63 L438.00,397.76 L438.50,397.89 L439.00,397.84 L439.50,397.90 L440.00,397.91 L440.50,397.76 L441.00,397.74 L441.50,397.99 L442.00,397.85 L442.50,397.82 L443.00,397.67 L443.50,397.64 L444.00,397.61 L444.50,397.90 L445.00,397.96 L445.50,398.06 L446.00,398.15 L446.50,398.04 L447.00,398.12 L447.50,398.00 L448.00,397.89 L448.50,398.05 L449.00,398.11 L449.50,398.16 L450.00,398.00 L450.50,398.04 L451.00,397.91 L451.50,398.08 L452.00,398.14 L452.50,397.91 L453.00,398.06 L453.50,397.83 L454.00,397.68 L454.50,397.86 L455.00,397.78 L455.50,397.83 L456.00,397.90 L456.50,397.69 L457.00,397.88 L457.50,397.78 L458.00,397.79 L458.50,397.77 L459.00,397.91 L459.50,397.99 L460.00,397.84 L460.50,397.69 L461.00,397.70 L461.50,397.75 L462.00,397.64 L462.50,397.61 L463.00,397.84 L463.50,397.94 L464.00,398.09 L464.50,398.17 L465.00,398.17 L465.50,397.97 L466.00,397.78 L466.50,397.75 L467.00,397.80 L467.50,397.84 L468.00,397.87 L468.50,397.82 L469.00,397.99 L469.50,397.84 L470.00,397.84 L470.50,398.01 L471.00,398.07 L471.50,397.89 L472.00,397.78 L472.50,397.95 L473.00,397.72 L473.50,397.65 L474.00,397.78 L474.50,397.84 L475.00,397.73 L475.50,397.62 L476.00,397.63 L476.50,397.86 L477.00,397.86 L477.50,398.06 L478.00,398.09 L478.50,398.18 L479.00,397.84 L479.50,397.74 L480.00,397.62 L480.50,397.72 L481.00,397.74 L481.50,397.63 L482.00,397.78 L482.50,397.67 L483.00,397.70 L483.50,397.69 L484.00,397.91 L484.50,397.87 L485.00,397.78 L485.50,397.65 L486.00,397.74 L486.50,397.87 L487.00,397.95 L487.50,398.09 L488.00,398.11 L488.50,397.90 L489.00,397.75 L489.50,397.92 L490.00,398.02 L490.50,397.96 L491.00,398.06 L491.50,398.00 L492.00,397.86 L492.50,397.74 L493.00,397.62 L493.50,397.81 L494.00,398.01 L494.50,398.11 L495.00,397.98 L495.50,397.95 L496.00,397.82 L496.50,396.91 L497.00,395.02 L497.50,393.50 L498.00,394.16 L498.50,395.91 L499.00,397.15 L499.50,397.77 L500.00,398.06 L500.50,398.00 L501.00,397.91 L501.50,397.85 L502.00,397.86 L502.50,398.00 L503.00,397.93 L503.50,398.10 L504.00,397.87 L504.50,397.81 L505.00,397.87 L505.50,397.85 L506.00,398.02 L506.50,398.10 L507.00,398.18 L507.50,398.09 L508.00,397.81 L508.50,397.89 L509.00,397.92 L509.50,397.91 L510.00,397.83 L510.50,397.95 L511.00,398.10 L511.50,397.85 L512.00,397.95 L512.50,397.88 L513.00,397.91 L513.50,398.07 L514.00,398.18 L514.50,398.11 L515.00,397.89 L515.50,398.07 L516.00,397.87 L516.50,397.85 L517.00,398.02 L517.50,397.90 L518.00,397.82 L518.50,398.05 L519.00,398.17 L519.50,397.97 L520.00,397.91 L520.50,397.83 L521.00,397.73 L521.50,397.73 L522.00,398.02 L522.50,397.81 L523.00,397.76 L523.50,397.72 L524.00,397.66 L524.50,397.81 L525.00,397.97 L525.50,398.08 L526.00,398.06 L526.50,398.12 L527.00,397.83 L527.50,397.80 L528.00,398.05 L528.50,397.82 L529.00,397.78 L529.50,397.85 L530.00,397.80 L530.50,397.89 L531.00,397.73 L531.50,397.73 L532.00,398.02 L532.50,397.84 L533.00,398.05 L533.50,397.87 L534.00,398.10 L534.50,398.09 L535.00,398.07 L535.50,397.87 L536.00,397.73 L536.50,397.94 L537.00,397.81 L537.50,397.75 L538.00,397.98 L538.50,398.11 L539.00,397.85 L539.50,398.08 L540.00,398.03 L540.50,397.94 L541.00,397.79 L541.50,397.82 L542.00,398.08 L542.50,397.93 L543.00,397.79 L543.50,397.73 L544.00,397.69 L544.50,397.76 L545.00,398.02 L545.50,397.82 L546.00,397.76 L546.50,398.03 L547.00,398.19 L547.50,398.26 L548.00,398.01 L548.50,397.92 L549.00,398.12 L549.50,398.03 L550.00,398.07 L550.50,397.94 L551.00,397.76 L551.50,397.79 L552.00,397.97 L552.50,398.08 L553.00,398.04 L553.50,397.99 L554.00,397.99 L554.50,397.95 L555.00,397.96 L555.50,398.09 L556.00,397.90 L556.50,397.96 L557.00,398.13 L557.50,398.17 L558.00,397.93 L558.50,398.11 L559.00,398.15 L559.50,397.87 L560.00,397.58 L560.50,396.18 L561.00,391.81 L561.50,386.77 L561.70,385.84 L562.00,386.71 L562.50,389.54 L563.00,390.67 L563.50,393.04 L564.00,396.12 L564.50,397.78 L565.00,398.08 L565.50,398.04 L566.00,398.10 L566.50,397.87 L567.00,397.93 L567.50,397.92 L568.00,397.80 L568.50,397.93 L569.00,397.88 L569.50,397.93 L570.00,397.90 L570.50,397.86 L571.00,397.86 L571.50,397.96 L572.00,398.16 L572.50,398.24 L573.00,398.25 L573.50,398.25 L574.00,398.03 L574.50,398.19 L575.00,397.99 L575.50,397.83 L576.00,397.90 L576.50,398.03 L577.00,397.94 L577.50,398.01 L578.00,397.91 L578.50,398.12 L579.00,398.02 L579.50,397.98 L580.00,397.97 L580.50,398.09 L581.00,398.03 L581.50,396.84 L582.00,393.30 L582.50,389.01 L582.70,388.23 L583.00,388.69 L583.50,391.26 L584.00,392.30 L584.50,393.77 L585.00,396.44 L585.50,397.62 L586.00,398.11 L586.50,398.00 L587.00,397.88 L587.50,397.95 L588.00,398.12 L588.50,398.03 L589.00,398.16 L589.50,398.16" fill="none" stroke="#ff0000" stroke-width="1.8" stroke-linejoin="round"/><path d="M683.00,265.09 L683.50,264.96 L684.00,265.08 L684.50,265.01 L685.00,264.94 L685.50,265.12 L686.00,265.53 L686.50,265.68 L687.00,265.75 L687.50,265.47 L688.00,265.53 L688.50,265.42 L689.00,265.32 L689.50,265.24 L690.00,265.28 L690.50,265.74 L691.00,265.93 L691.50,266.02 L692.00,266.08 L692.50,265.76 L693.00,265.68 L693.50,265.85 L694.00,266.01 L694.50,266.17 L695.00,266.29 L695.50,265.88 L696.00,266.00 L696.50,266.12 L697.00,266.09 L697.50,265.89 L698.00,265.98 L698.50,265.81 L699.00,266.25 L699.50,266.44 L700.00,266.35 L700.50,266.18 L701.00,266.47 L701.50,266.42 L702.00,266.60 L702.50,266.67 L703.00,266.51 L703.50,266.35 L704.00,266.27 L704.50,265.84 L705.00,264.91 L705.50,263.84 L706.00,263.11 L706.50,262.37 L707.00,262.69 L707.50,264.05 L708.00,265.09 L708.50,265.98 L709.00,266.40 L709.50,266.50 L710.00,266.94 L710.50,266.67 L711.00,266.68 L711.50,266.58 L712.00,266.79 L712.50,266.70 L713.00,266.72 L713.50,266.97 L714.00,266.86 L714.50,266.95 L715.00,267.22 L715.50,266.89 L716.00,266.71 L716.50,266.73 L717.00,267.08 L717.50,267.17 L718.00,267.01 L718.50,266.99 L719.00,266.90 L719.50,267.04 L720.00,266.87 L720.50,267.19 L721.00,267.48 L721.50,267.67 L722.00,267.65 L722.50,267.78 L723.00,267.29 L723.50,267.22 L724.00,267.60 L724.50,267.69 L725.00,267.52 L725.50,267.77 L726.00,267.71 L726.50,267.81 L727.00,267.55 L727.50,267.37 L728.00,267.44 L728.50,267.30 L729.00,267.38 L729.50,267.78 L730.00,267.61 L730.50,267.33 L731.00,267.23 L731.50,267.25 L732.00,267.64 L732.50,267.58 L733.00,267.52 L733.50,267.37 L734.00,267.83 L734.50,267.73 L735.00,267.55 L735.50,267.37 L736.00,267.27 L736.50,267.29 L737.00,267.60 L737.50,267.44 L738.00,267.28 L738.50,267.47 L739.00,267.40 L739.50,267.81 L740.00,267.47 L740.50,267.51 L741.00,267.64 L741.50,267.46 L742.00,267.67 L742.50,267.43 L743.00,267.12 L743.50,267.01 L744.00,266.67 L744.50,266.66 L745.00,266.48 L745.50,266.68 L746.00,266.64 L746.50,266.31 L747.00,265.72 L747.50,265.40 L748.00,265.02 L748.50,264.42 L749.00,263.29 L749.50,261.42 L750.00,257.66 L750.50,253.88 L750.80,252.79 L751.00,252.32 L751.50,252.36 L752.00,252.09 L752.50,251.05 L753.00,248.46 L753.50,244.77 L754.00,239.04 L754.50,229.34 L755.00,213.23 L755.50,188.95 L756.00,156.54 L756.50,121.22 L757.00,100.08 L757.10,99.00 L757.50,109.66 L758.00,142.37 L758.50,177.78 L759.00,206.27 L759.50,226.03 L760.00,238.95 L760.50,247.08 L761.00,251.99 L761.50,255.70 L762.00,258.28 L762.50,259.64 L763.00,261.34 L763.50,262.58 L764.00,263.35 L764.50,263.62 L765.00,264.49 L765.50,264.67 L766.00,265.42 L766.50,265.73 L767.00,265.56 L767.50,265.43 L768.00,265.21 L768.50,264.03 L769.00,261.75 L769.50,258.38 L770.00,254.26 L770.50,251.84 L770.60,252.10 L771.00,253.10 L771.50,257.17 L772.00,261.03 L772.50,264.57 L773.00,266.74 L773.50,267.95 L774.00,268.36 L774.50,268.80 L775.00,268.67 L775.50,268.90 L776.00,268.85 L776.50,269.19 L777.00,269.32 L777.50,269.22 L778.00,269.23 L778.50,268.95 L779.00,268.84 L779.50,269.13 L780.00,269.23 L780.50,269.51 L781.00,269.51 L781.50,269.24 L782.00,269.25 L782.50,269.50 L783.00,269.49 L783.50,269.18 L784.00,269.52 L784.50,269.69 L785.00,269.33 L785.50,269.43 L786.00,269.38 L786.50,269.59 L787.00,269.41 L787.50,269.26 L788.00,269.31 L788.50,269.56 L789.00,268.86 L789.50,267.52 L790.00,264.83 L790.50,260.36 L791.00,255.93 L791.30,254.90 L791.50,255.49 L792.00,259.22 L792.50,263.53 L793.00,266.63 L793.50,266.34 L794.00,263.95 L794.50,261.93 L795.00,261.88 L795.50,262.86 L796.00,258.56 L796.50,234.56 L797.00,178.27 L797.30,157.60 L797.50,164.55 L798.00,210.60 L798.40,233.27 L798.50,237.46 L799.00,254.90 L799.50,264.50 L800.00,267.28 L800.50,268.21 L801.00,268.69 L801.50,269.15 L802.00,269.32 L802.50,269.22 L803.00,269.33 L803.50,269.80 L804.00,269.78 L804.50,270.06 L805.00,270.37 L805.50,270.34 L806.00,270.39 L806.50,270.41 L807.00,270.27 L807.50,270.58 L808.00,270.50 L808.50,270.75 L809.00,270.52 L809.50,270.75 L810.00,270.79 L810.50,270.65 L811.00,270.38 L811.50,269.93 L812.00,269.91 L812.50,269.49 L813.00,269.34 L813.50,268.89 L814.00,268.69 L814.50,268.78 L815.00,269.45 L815.50,269.63 L816.00,270.37 L816.50,270.58 L817.00,270.93 L817.50,271.04 L818.00,271.31 L818.50,271.16 L819.00,271.29 L819.50,271.70 L820.00,271.47 L820.50,271.63 L821.00,271.51 L821.50,271.44 L822.00,271.25 L822.50,271.15 L823.00,271.66 L823.50,271.85 L824.00,271.93 L824.50,271.98 L825.00,272.09 L825.50,271.68 L826.00,271.73 L826.50,271.70 L827.00,271.74 L827.50,271.98 L828.00,272.00 L828.50,272.14 L829.00,271.70 L829.50,271.80 L830.00,271.87 L830.50,271.95 L831.00,271.92 L831.50,272.03 L832.00,271.78 L832.50,272.03 L833.00,271.84 L833.50,271.87 L834.00,272.06 L834.50,272.05 L835.00,271.80 L835.50,271.64 L836.00,271.62 L836.50,271.79 L837.00,272.10 L837.50,272.20 L838.00,271.95 L838.50,271.83 L839.00,272.03 L839.50,271.81 L840.00,271.77 L840.50,271.52 L841.00,271.50 L841.50,271.71 L842.00,271.91 L842.50,271.96 L843.00,271.84 L843.50,272.14 L844.00,272.09 L844.50,271.79 L845.00,271.59 L845.50,272.03 L846.00,272.27 L846.50,272.35 L847.00,272.20 L847.50,271.95 L848.00,271.70 L848.50,271.68 L849.00,271.65 L849.50,272.06 L850.00,272.25 L850.50,272.27 L851.00,271.91 L851.50,271.79 L852.00,271.77 L852.50,272.15 L853.00,271.87 L853.50,272.11 L854.00,272.16 L854.50,272.12 L855.00,272.34 L855.50,272.04 L856.00,272.05 L856.50,271.83 L857.00,271.69 L857.50,271.59 L858.00,271.71 L858.50,271.65 L859.00,271.59 L859.50,272.12 L860.00,271.97 L860.50,272.26 L861.00,272.29 L861.50,272.33 L862.00,272.30 L862.50,272.47 L863.00,272.51 L863.50,272.44 L864.00,272.31 L864.50,272.33 L865.00,272.36 L865.50,272.27 L866.00,272.20 L866.50,271.96 L867.00,272.26 L867.50,272.19 L868.00,271.91 L868.50,271.84 L869.00,272.22 L869.50,272.05 L870.00,272.05 L870.50,272.22 L871.00,272.42 L871.50,272.20 L872.00,272.13 L872.50,272.12 L873.00,271.88 L873.50,272.27 L874.00,271.95 L874.50,272.36 L875.00,272.08 L875.50,271.95 L876.00,272.30 L876.50,272.46 L877.00,272.19 L877.50,272.25 L878.00,272.24 L878.50,272.38 L879.00,272.13 L879.50,272.39 L880.00,272.63 L880.50,272.59 L881.00,272.70 L881.50,272.77 L882.00,272.48 L882.50,272.62 L883.00,272.69 L883.50,272.58 L884.00,272.24 L884.50,272.37 L885.00,272.57 L885.50,272.17 L886.00,271.85 L886.50,271.26 L887.00,270.02 L887.50,268.39 L888.00,267.76 L888.50,267.74 L889.00,268.99 L889.50,270.32 L890.00,271.25 L890.50,272.23 L891.00,272.56 L891.50,272.53 L892.00,272.79 L892.50,272.96 L893.00,273.05 L893.50,273.09 L894.00,272.99 L894.50,272.97 L895.00,272.91 L895.50,272.85 L896.00,273.10 L896.50,272.85 L897.00,272.57 L897.50,272.82 L898.00,272.82 L898.50,272.85 L899.00,272.91 L899.50,272.74 L900.00,272.63 L900.50,272.51 L901.00,272.88 L901.50,273.15 L902.00,273.16 L902.50,272.83 L903.00,273.18 L903.50,273.28 L904.00,273.14 L904.50,272.78 L905.00,273.11 L905.50,273.15 L906.00,273.17 L906.50,272.83 L907.00,273.09 L907.50,272.81 L908.00,272.95 L908.50,272.82 L909.00,272.89 L909.50,273.25 L910.00,273.35 L910.50,273.44 L911.00,273.19 L911.50,273.11 L912.00,273.21 L912.50,272.89 L913.00,272.88 L913.50,272.99 L914.00,272.46 L914.50,271.53 L915.00,269.89 L915.50,268.75 L916.00,268.34 L916.50,268.86 L917.00,269.94 L917.50,271.06 L918.00,271.88 L918.50,272.88 L919.00,273.36 L919.50,273.16 L920.00,273.29 L920.50,273.10 L921.00,273.07 L921.50,273.07 L922.00,272.54 L922.50,271.87 L923.00,269.34 L923.50,263.24 L924.00,253.19 L924.40,248.49 L924.50,248.16 L925.00,253.36 L925.50,258.13 L925.80,260.57 L926.00,262.02 L926.50,267.24 L927.00,270.81 L927.50,272.35 L928.00,272.85 L928.50,273.44 L929.00,273.59 L929.50,273.83 L930.00,273.73 L930.50,273.45 L931.00,273.46 L931.50,273.53 L932.00,273.90 L932.50,273.59 L933.00,273.49 L933.50,273.80 L934.00,273.52 L934.50,273.89 L935.00,273.68 L935.50,273.73 L936.00,273.82 L936.50,274.01 L937.00,273.61 L937.50,273.87 L938.00,273.60 L938.50,273.79 L939.00,273.47 L939.50,273.75 L940.00,273.54 L940.50,273.45 L941.00,273.30 L941.50,273.40 L942.00,273.45 L942.50,273.87 L943.00,273.85 L943.50,273.70 L944.00,274.00 L944.50,273.65 L945.00,273.51 L945.50,273.88 L946.00,274.06 L946.50,273.99 L947.00,274.13 L947.50,273.65 L948.00,273.91 L948.50,273.92 L949.00,273.91 L949.50,274.00 L950.00,273.61 L950.50,273.47 L951.00,273.36 L951.50,273.51 L952.00,273.62 L952.50,273.67 L953.00,273.59 L953.50,273.78 L954.00,273.93 L954.50,273.95 L955.00,273.53 L955.50,273.39 L956.00,273.36 L956.50,273.35 L957.00,273.55 L957.50,273.42 L958.00,273.61 L958.50,273.54 L959.00,273.51 L959.50,273.71 L960.00,273.94 L960.50,273.61 L961.00,273.53 L961.50,273.88 L962.00,273.58 L962.50,273.33 L963.00,273.29 L963.50,273.66 L964.00,273.78 L964.50,273.97 L965.00,273.80 L965.50,273.43 L966.00,273.41 L966.50,273.65 L967.00,273.57 L967.50,273.37 L968.00,273.42 L968.50,273.49 L969.00,273.46 L969.50,273.50 L970.00,273.33 L970.50,273.19 L971.00,273.56 L971.50,273.72 L972.00,273.61 L972.50,273.37 L973.00,273.36 L973.50,273.51 L974.00,273.78 L974.50,273.67 L975.00,273.91 L975.50,273.76 L976.00,273.48 L976.50,273.59 L977.00,273.64 L977.50,273.66 L978.00,273.75 L978.50,273.37 L979.00,273.43 L979.50,273.67 L980.00,273.40 L980.50,273.20 L981.00,273.19 L981.50,273.24 L982.00,273.35 L982.50,273.34 L983.00,273.52 L983.50,273.33 L984.00,273.34 L984.50,273.54 L985.00,273.56 L985.50,273.82 L986.00,273.93 L986.50,273.58 L987.00,273.45 L987.50,273.51 L988.00,273.54 L988.50,273.44 L989.00,273.69 L989.50,273.42 L990.00,273.44 L990.50,273.24 L991.00,273.60 L991.50,273.60 L992.00,273.84 L992.50,273.45 L993.00,273.59 L993.50,273.60 L994.00,273.27 L994.50,273.56 L995.00,273.74 L995.50,273.35 L996.00,273.67 L996.50,273.74 L997.00,273.66 L997.50,273.58 L998.00,273.37 L998.50,273.14 L999.00,273.28 L999.50,273.58 L1000.00,273.33 L1000.50,273.37 L1001.00,273.27 L1001.50,273.47 L1002.00,273.73 L1002.50,273.82 L1003.00,273.51 L1003.50,273.43 L1004.00,273.14 L1004.50,273.31 L1005.00,273.59 L1005.50,273.72 L1006.00,273.33 L1006.50,273.34 L1007.00,273.14 L1007.50,273.24 L1008.00,273.59 L1008.50,273.38 L1009.00,273.61 L1009.50,273.79 L1010.00,273.80 L1010.50,273.43 L1011.00,273.67 L1011.50,273.79 L1012.00,273.88 L1012.50,273.33 L1013.00,273.03 L1013.50,273.02 L1014.00,273.07 L1014.50,272.89 L1015.00,272.37 L1015.50,272.15 L1016.00,271.80 L1016.50,271.47 L1017.00,271.30 L1017.50,271.47 L1018.00,271.92 L1018.50,272.00 L1019.00,272.39 L1019.50,272.42 L1020.00,272.38 L1020.50,272.68 L1021.00,272.48 L1021.50,272.28 L1022.00,272.00 L1022.50,271.86 L1023.00,271.24 L1023.50,270.88 L1024.00,269.78 L1024.50,268.77 L1025.00,265.39 L1025.50,256.99 L1026.00,235.07 L1026.50,195.29 L1027.00,154.70 L1027.20,148.27 L1027.50,154.41 L1028.00,186.63 L1028.50,216.29 L1028.60,221.06 L1029.00,237.78 L1029.50,253.82 L1030.00,264.18 L1030.50,269.09 L1031.00,270.87 L1031.50,271.63 L1032.00,272.07 L1032.50,272.16 L1033.00,272.74 L1033.50,272.93 L1034.00,273.11 L1034.50,273.38 L1035.00,273.25 L1035.50,273.14 L1036.00,273.10 L1036.50,273.11 L1037.00,273.12 L1037.50,273.16 L1038.00,273.13 L1038.50,273.29 L1039.00,273.27 L1039.50,273.32 L1040.00,273.53 L1040.50,273.43 L1041.00,273.70 L1041.50,273.77 L1042.00,273.46 L1042.50,273.49 L1043.00,272.93 L1043.50,272.40 L1044.00,272.53 L1044.50,271.99 L1045.00,271.82 L1045.50,272.48 L1046.00,272.52 L1046.50,273.10 L1047.00,273.43 L1047.50,273.42 L1048.00,273.44 L1048.50,273.88 L1049.00,273.76 L1049.50,273.60 L1050.00,273.65 L1050.50,273.85 L1051.00,273.69 L1051.50,273.49 L1052.00,273.82 L1052.50,273.57 L1053.00,273.42 L1053.50,273.32 L1054.00,273.87 L1054.50,273.81 L1055.00,273.96 L1055.50,273.93 L1056.00,274.17 L1056.50,273.91 L1057.00,273.79 L1057.50,273.93 L1058.00,273.60 L1058.50,273.65 L1059.00,273.91 L1059.50,273.94 L1060.00,273.90 L1060.50,274.15 L1061.00,273.98 L1061.50,274.08 L1062.00,273.92 L1062.50,273.66 L1063.00,273.72 L1063.50,273.64 L1064.00,273.49 L1064.50,273.58 L1065.00,273.53 L1065.50,273.70 L1066.00,273.96 L1066.50,274.10 L1067.00,274.25 L1067.50,273.99 L1068.00,274.07 L1068.50,274.24 L1069.00,274.04 L1069.50,274.25 L1070.00,273.87 L1070.50,274.17 L1071.00,274.30 L1071.50,274.42 L1072.00,274.40 L1072.50,274.32 L1073.00,274.11 L1073.50,274.18 L1074.00,274.31 L1074.50,274.20 L1075.00,274.17 L1075.50,274.34 L1076.00,274.05 L1076.50,273.93 L1077.00,273.69 L1077.50,274.08 L1078.00,274.13 L1078.50,274.18 L1079.00,273.95 L1079.50,273.80 L1080.00,273.91 L1080.50,274.20 L1081.00,274.03 L1081.50,273.99 L1082.00,273.97 L1082.50,274.22 L1083.00,273.91 L1083.50,274.21 L1084.00,273.84 L1084.50,274.07 L1085.00,274.23 L1085.50,274.13 L1086.00,274.25 L1086.50,274.03 L1087.00,273.84 L1087.50,273.88 L1088.00,273.84 L1088.50,274.10 L1089.00,274.14 L1089.50,274.21 L1090.00,274.44 L1090.50,274.44 L1091.00,274.45 L1091.50,274.56 L1092.00,274.60 L1092.50,274.50 L1093.00,274.22 L1093.50,274.18 L1094.00,274.30 L1094.50,274.39 L1095.00,274.50 L1095.50,274.46 L1096.00,274.40 L1096.50,274.12 L1097.00,274.20 L1097.50,273.98 L1098.00,274.15 L1098.50,273.95 L1099.00,273.76 L1099.50,274.23 L1100.00,274.41 L1100.50,274.16 L1101.00,273.88 L1101.50,274.20 L1102.00,274.34 L1102.50,274.03 L1103.00,274.27 L1103.50,274.41 L1104.00,274.31 L1104.50,274.08 L1105.00,273.84 L1105.50,273.72 L1106.00,273.88 L1106.50,274.12 L1107.00,274.19 L1107.50,273.97 L1108.00,274.20 L1108.50,273.87 L1109.00,274.02 L1109.50,273.82 L1110.00,273.61 L1110.50,273.60 L1111.00,273.94 L1111.50,273.74 L1112.00,273.48 L1112.50,273.60 L1113.00,273.52 L1113.50,273.55 L1114.00,273.43 L1114.50,273.21 L1115.00,272.66 L1115.50,270.80 L1116.00,267.69 L1116.50,262.25 L1117.00,255.58 L1117.50,249.58 L1117.90,248.10 L1118.00,248.14 L1118.50,252.08 L1119.00,258.81 L1119.50,264.79 L1120.00,268.94 L1120.50,271.32 L1121.00,272.61 L1121.50,273.14 L1122.00,273.20 L1122.50,273.73 L1123.00,273.89 L1123.50,274.14 L1124.00,274.27 L1124.50,274.28 L1125.00,274.36 L1125.50,274.34 L1126.00,274.18 L1126.50,274.34 L1127.00,274.49 L1127.50,274.09 L1128.00,273.91 L1128.50,273.85 L1129.00,273.99 L1129.50,274.31 L1130.00,274.27 L1130.50,274.46 L1131.00,274.26 L1131.50,274.28 L1132.00,274.10 L1132.50,274.25 L1133.00,274.11 L1133.50,273.88 L1134.00,274.00 L1134.50,274.17 L1135.00,274.44 L1135.50,274.22 L1136.00,274.50 L1136.50,274.57 L1137.00,274.22 L1137.50,274.41 L1138.00,274.61 L1138.50,274.72 L1139.00,274.62 L1139.50,274.39 L1140.00,274.36 L1140.50,274.42 L1141.00,274.43 L1141.50,274.17 L1142.00,274.47 L1142.50,274.41 L1143.00,274.10 L1143.50,274.09 L1144.00,273.95 L1144.50,274.11 L1145.00,273.97 L1145.50,274.16 L1146.00,274.11 L1146.50,274.41 L1147.00,274.53 L1147.50,274.24 L1148.00,274.47 L1148.50,274.45 L1149.00,274.25 L1149.50,274.54 L1150.00,274.14 L1150.50,274.18 L1151.00,274.32 L1151.50,274.13 L1152.00,274.23 L1152.50,274.52 L1153.00,274.34 L1153.50,274.47 L1154.00,274.22 L1154.50,274.57 L1155.00,274.74 L1155.50,274.35 L1156.00,274.51 L1156.50,274.33 L1157.00,274.07 L1157.50,274.04 L1158.00,274.34 L1158.50,274.33 L1159.00,274.37 L1159.50,274.14 L1160.00,274.06 L1160.50,274.13 L1161.00,274.26 L1161.50,274.51 L1162.00,274.41 L1162.50,274.29 L1163.00,274.58 L1163.50,274.60 L1164.00,274.64 L1164.50,274.70 L1165.00,274.53 L1165.50,274.32 L1166.00,274.12 L1166.50,274.35 L1167.00,274.52 L1167.50,274.70 L1168.00,274.80 L1168.50,274.60 L1169.00,274.49 L1169.50,274.72 L1170.00,274.31 L1170.50,274.28 L1171.00,274.37 L1171.50,274.45 L1172.00,274.49 L1172.50,274.24 L1173.00,274.33 L1173.50,274.17 L1174.00,274.21 L1174.50,274.08 L1175.00,274.04 L1175.50,274.11 L1176.00,273.84 L1176.50,273.36 L1177.00,273.12 L1177.50,273.03 L1178.00,272.83 L1178.50,272.90 L1179.00,273.27 L1179.50,273.80 L1180.00,273.79 L1180.50,274.22 L1181.00,274.07 L1181.50,274.49 L1182.00,274.28 L1182.50,274.56 L1183.00,274.22 L1183.50,274.33 L1184.00,274.24 L1184.50,274.51 L1185.00,274.64 L1185.50,274.32 L1186.00,274.12 L1186.50,274.42 L1187.00,274.39 L1187.50,274.35 L1188.00,274.31 L1188.50,274.30 L1189.00,274.43 L1189.50,274.38 L1190.00,274.20 L1190.50,274.31 L1191.00,274.68 L1191.50,274.74 L1192.00,274.73 L1192.50,274.86 L1193.00,274.63 L1193.50,274.47 L1194.00,274.65 L1194.50,274.32 L1195.00,274.56 L1195.50,274.31 L1196.00,274.47 L1196.50,274.48 L1197.00,274.65 L1197.50,274.30 L1198.00,274.49 L1198.50,274.68 L1199.00,274.30 L1199.50,274.47 L1200.00,274.27 L1200.50,274.42 L1201.00,274.51 L1201.50,273.80 L1202.00,273.52 L1202.50,273.36 L1203.00,273.63 L1203.50,273.93 L1204.00,273.80 L1204.50,274.04 L1205.00,274.49 L1205.50,275.04 L1206.00,275.36 L1206.50,275.41 L1207.00,275.67 L1207.50,275.78 L1208.00,275.89" fill="none" stroke="#0000ff" stroke-width="1.8" stroke-linejoin="round"/><path d="M683.00,390.87 L683.50,390.99 L684.00,391.10 L684.50,391.25 L685.00,391.21 L685.50,391.31 L686.00,390.83 L686.50,390.86 L687.00,391.17 L687.50,391.16 L688.00,391.32 L688.50,390.93 L689.00,390.96 L689.50,390.85 L690.00,390.98 L690.50,391.07 L691.00,390.79 L691.50,390.78 L692.00,390.82 L692.50,391.24 L693.00,391.36 L693.50,391.07 L694.00,391.31 L694.50,391.05 L695.00,391.21 L695.50,391.01 L696.00,390.84 L696.50,391.29 L697.00,391.12 L697.50,391.05 L698.00,391.49 L698.50,391.65 L699.00,391.39 L699.50,391.67 L700.00,391.56 L700.50,391.60 L701.00,391.35 L701.50,391.67 L702.00,391.69 L702.50,391.87 L703.00,391.92 L703.50,391.57 L704.00,391.38 L704.50,390.99 L705.00,390.41 L705.50,389.50 L706.00,388.65 L706.50,388.25 L707.00,388.11 L707.50,389.15 L708.00,390.07 L708.50,390.80 L709.00,391.53 L709.50,391.67 L710.00,391.62 L710.50,391.69 L711.00,391.87 L711.50,391.58 L712.00,391.99 L712.50,391.63 L713.00,391.90 L713.50,392.10 L714.00,391.72 L714.50,391.99 L715.00,391.89 L715.50,391.97 L716.00,391.68 L716.50,391.57 L717.00,391.60 L717.50,392.09 L718.00,391.89 L718.50,392.13 L719.00,392.36 L719.50,392.50 L720.00,392.21 L720.50,392.09 L721.00,392.13 L721.50,392.32 L722.00,392.02 L722.50,392.26 L723.00,392.42 L723.50,392.54 L724.00,392.12 L724.50,392.46 L725.00,392.13 L725.50,392.12 L726.00,392.29 L726.50,392.57 L727.00,392.37 L727.50,392.62 L728.00,392.53 L728.50,392.36 L729.00,392.28 L729.50,392.17 L730.00,392.06 L730.50,392.05 L731.00,392.38 L731.50,392.74 L732.00,392.43 L732.50,392.21 L733.00,392.67 L733.50,392.64 L734.00,392.55 L734.50,392.42 L735.00,392.57 L735.50,392.80 L736.00,392.69 L736.50,392.63 L737.00,392.38 L737.50,392.78 L738.00,392.46 L738.50,392.58 L739.00,392.85 L739.50,392.57 L740.00,392.80 L740.50,393.05 L741.00,392.99 L741.50,393.05 L742.00,392.68 L742.50,392.70 L743.00,392.54 L743.50,392.88 L744.00,392.72 L744.50,392.74 L745.00,393.08 L745.50,393.16 L746.00,393.27 L746.50,393.01 L747.00,392.89 L747.50,392.97 L748.00,392.85 L748.50,392.66 L749.00,392.61 L749.50,392.41 L750.00,392.42 L750.50,392.74 L751.00,392.82 L751.50,392.59 L752.00,392.30 L752.50,391.93 L753.00,391.42 L753.50,391.02 L754.00,390.74 L754.50,390.04 L755.00,388.09 L755.50,383.71 L756.00,371.35 L756.50,345.02 L757.00,309.59 L757.40,293.22 L757.50,293.27 L758.00,312.25 L758.50,336.39 L758.90,350.72 L759.00,353.98 L759.50,368.67 L760.00,380.48 L760.50,387.80 L761.00,390.65 L761.50,391.61 L762.00,391.70 L762.50,392.13 L763.00,392.24 L763.50,392.60 L764.00,392.71 L764.50,393.02 L765.00,393.11 L765.50,393.27 L766.00,393.11 L766.50,393.23 L767.00,393.36 L767.50,393.49 L768.00,393.25 L768.50,393.30 L769.00,392.99 L769.50,392.03 L770.00,390.89 L770.50,389.89 L771.00,389.56 L771.50,390.42 L772.00,391.50 L772.50,392.81 L773.00,393.56 L773.50,393.60 L774.00,393.71 L774.50,393.78 L775.00,393.83 L775.50,393.52 L776.00,393.74 L776.50,393.74 L777.00,393.80 L777.50,393.68 L778.00,393.76 L778.50,393.89 L779.00,393.88 L779.50,393.93 L780.00,393.55 L780.50,393.44 L781.00,393.56 L781.50,393.75 L782.00,393.59 L782.50,393.80 L783.00,393.88 L783.50,393.56 L784.00,393.67 L784.50,393.58 L785.00,393.43 L785.50,393.41 L786.00,393.51 L786.50,393.48 L787.00,393.47 L787.50,393.37 L788.00,393.56 L788.50,393.56 L789.00,393.50 L789.50,392.82 L790.00,390.68 L790.50,387.11 L791.00,381.06 L791.50,375.60 L792.00,373.40 L792.50,375.61 L793.00,380.98 L793.50,386.99 L794.00,390.78 L794.50,392.47 L795.00,393.39 L795.50,393.10 L796.00,391.43 L796.50,384.29 L797.00,370.13 L797.50,357.76 L797.60,356.43 L798.00,358.15 L798.50,367.23 L798.80,372.67 L799.00,376.40 L799.50,384.80 L800.00,390.87 L800.50,393.34 L801.00,394.20 L801.50,394.45 L802.00,394.34 L802.50,394.13 L803.00,394.36 L803.50,393.94 L804.00,393.80 L804.50,394.00 L805.00,394.14 L805.50,393.92 L806.00,394.11 L806.50,394.36 L807.00,394.18 L807.50,394.12 L808.00,393.97 L808.50,393.93 L809.00,394.32 L809.50,394.16 L810.00,394.43 L810.50,394.53 L811.00,394.39 L811.50,394.12 L812.00,394.42 L812.50,394.28 L813.00,394.16 L813.50,394.04 L814.00,394.38 L814.50,394.25 L815.00,394.07 L815.50,394.09 L816.00,393.88 L816.50,394.08 L817.00,394.07 L817.50,393.97 L818.00,394.22 L818.50,394.37 L819.00,393.95 L819.50,394.05 L820.00,393.95 L820.50,394.29 L821.00,394.36 L821.50,394.05 L822.00,393.83 L822.50,393.43 L823.00,393.28 L823.50,392.11 L824.00,391.07 L824.50,390.28 L825.00,390.46 L825.50,391.35 L826.00,392.57 L826.50,393.14 L827.00,393.87 L827.50,393.92 L828.00,394.05 L828.50,393.98 L829.00,393.92 L829.50,394.02 L830.00,394.04 L830.50,393.98 L831.00,394.19 L831.50,394.20 L832.00,393.87 L832.50,393.83 L833.00,393.94 L833.50,394.26 L834.00,394.41 L834.50,394.28 L835.00,393.89 L835.50,394.16 L836.00,394.08 L836.50,394.13 L837.00,394.23 L837.50,394.24 L838.00,394.15 L838.50,394.36 L839.00,394.15 L839.50,394.05 L840.00,394.27 L840.50,393.99 L841.00,393.91 L841.50,394.19 L842.00,393.87 L842.50,394.17 L843.00,394.24 L843.50,394.11 L844.00,393.96 L844.50,394.18 L845.00,394.37 L845.50,394.00 L846.00,394.02 L846.50,394.07 L847.00,394.06 L847.50,393.96 L848.00,393.80 L848.50,393.98 L849.00,394.20 L849.50,393.87 L850.00,393.80 L850.50,394.11 L851.00,394.26 L851.50,394.25 L852.00,393.86 L852.50,394.09 L853.00,394.35 L853.50,394.49 L854.00,394.39 L854.50,393.94 L855.00,394.19 L855.50,393.95 L856.00,394.08 L856.50,394.33 L857.00,394.31 L857.50,393.95 L858.00,393.86 L858.50,394.20 L859.00,393.90 L859.50,394.03 L860.00,393.97 L860.50,393.79 L861.00,393.98 L861.50,393.72 L862.00,393.64 L862.50,393.75 L863.00,393.63 L863.50,393.55 L864.00,393.83 L864.50,394.06 L865.00,394.26 L865.50,393.91 L866.00,393.92 L866.50,393.85 L867.00,393.99 L867.50,393.99 L868.00,394.26 L868.50,394.05 L869.00,393.76 L869.50,393.99 L870.00,393.78 L870.50,393.92 L871.00,393.89 L871.50,394.10 L872.00,393.97 L872.50,393.92 L873.00,393.66 L873.50,393.68 L874.00,393.49 L874.50,393.67 L875.00,393.59 L875.50,393.30 L876.00,393.20 L876.50,393.20 L877.00,393.40 L877.50,393.15 L878.00,393.31 L878.50,393.34 L879.00,392.99 L879.50,393.14 L880.00,392.85 L880.50,392.75 L881.00,392.97 L881.50,392.87 L882.00,393.21 L882.50,393.13 L883.00,393.00 L883.50,393.22 L884.00,392.87 L884.50,393.10 L885.00,392.79 L885.50,392.62 L886.00,392.81 L886.50,392.34 L887.00,391.35 L887.50,390.55 L888.00,390.90 L888.50,391.46 L889.00,392.32 L889.50,392.54 L890.00,392.96 L890.50,392.96 L891.00,392.87 L891.50,392.88 L892.00,393.04 L892.50,392.97 L893.00,392.95 L893.50,392.80 L894.00,393.14 L894.50,393.19 L895.00,393.32 L895.50,393.16 L896.00,393.33 L896.50,393.21 L897.00,393.20 L897.50,393.18 L898.00,393.27 L898.50,393.11 L899.00,392.85 L899.50,392.68 L900.00,392.70 L900.50,392.61 L901.00,393.07 L901.50,393.06 L902.00,393.22 L902.50,392.84 L903.00,392.94 L903.50,393.23 L904.00,393.22 L904.50,393.10 L905.00,393.06 L905.50,392.82 L906.00,392.73 L906.50,392.69 L907.00,392.79 L907.50,392.85 L908.00,393.18 L908.50,392.90 L909.00,392.83 L909.50,392.80 L910.00,392.71 L910.50,392.74 L911.00,392.72 L911.50,392.86 L912.00,392.64 L912.50,393.04 L913.00,392.83 L913.50,392.84 L914.00,392.19 L914.50,390.96 L915.00,388.92 L915.50,386.82 L916.00,384.43 L916.50,383.70 L917.00,384.40 L917.50,386.54 L918.00,388.96 L918.50,390.57 L919.00,391.66 L919.50,392.11 L920.00,392.40 L920.50,392.39 L921.00,392.54 L921.50,392.90 L922.00,392.49 L922.50,390.67 L923.00,381.99 L923.50,358.70 L924.00,332.47 L924.20,327.91 L924.50,330.45 L925.00,347.03 L925.50,360.93 L926.00,374.17 L926.50,385.80 L927.00,391.24 L927.50,392.90 L928.00,392.68 L928.50,392.55 L929.00,392.92 L929.50,392.89 L930.00,392.66 L930.50,392.85 L931.00,393.22 L931.50,393.12 L932.00,392.97 L932.50,392.75 L933.00,392.62 L933.50,393.06 L934.00,393.03 L934.50,393.29 L935.00,392.89 L935.50,392.80 L936.00,392.64 L936.50,392.77 L937.00,392.63 L937.50,392.68 L938.00,392.79 L938.50,392.79 L939.00,392.63 L939.50,392.55 L940.00,393.06 L940.50,392.83 L941.00,392.90 L941.50,392.84 L942.00,392.82 L942.50,392.43 L943.00,392.20 L943.50,391.73 L944.00,391.48 L944.50,391.29 L945.00,390.75 L945.50,390.50 L946.00,390.01 L946.50,389.81 L947.00,390.30 L947.50,390.83 L948.00,391.43 L948.50,391.85 L949.00,392.36 L949.50,392.76 L950.00,393.12 L950.50,392.95 L951.00,392.95 L951.50,393.18 L952.00,392.93 L952.50,392.74 L953.00,392.77 L953.50,392.64 L954.00,392.99 L954.50,393.20 L955.00,392.99 L955.50,392.78 L956.00,392.65 L956.50,392.68 L957.00,392.60 L957.50,392.76 L958.00,392.94 L958.50,392.82 L959.00,392.66 L959.50,392.95 L960.00,392.71 L960.50,392.68 L961.00,392.72 L961.50,392.79 L962.00,392.66 L962.50,392.78 L963.00,392.77 L963.50,393.02 L964.00,393.00 L964.50,393.14 L965.00,392.99 L965.50,392.85 L966.00,392.51 L966.50,392.07 L967.00,391.88 L967.50,391.54 L968.00,391.47 L968.50,391.34 L969.00,391.38 L969.50,391.34 L970.00,391.85 L970.50,392.03 L971.00,392.12 L971.50,392.21 L972.00,392.38 L972.50,392.54 L973.00,392.87 L973.50,392.81 L974.00,392.64 L974.50,392.98 L975.00,393.02 L975.50,392.73 L976.00,392.59 L976.50,392.57 L977.00,392.70 L977.50,393.06 L978.00,393.30 L978.50,393.22 L979.00,392.95 L979.50,392.93 L980.00,392.88 L980.50,392.84 L981.00,392.62 L981.50,392.86 L982.00,393.12 L982.50,393.19 L983.00,392.85 L983.50,392.94 L984.00,392.77 L984.50,393.00 L985.00,392.96 L985.50,393.24 L986.00,393.29 L986.50,392.91 L987.00,392.84 L987.50,393.16 L988.00,393.05 L988.50,392.97 L989.00,392.94 L989.50,393.12 L990.00,393.31 L990.50,393.15 L991.00,393.33 L991.50,393.20 L992.00,392.83 L992.50,393.07 L993.00,392.94 L993.50,392.66 L994.00,393.06 L994.50,392.69 L995.00,392.83 L995.50,392.83 L996.00,393.06 L996.50,392.88 L997.00,392.67 L997.50,392.58 L998.00,392.48 L998.50,392.62 L999.00,392.54 L999.50,392.68 L1000.00,392.24 L1000.50,390.94 L1001.00,385.12 L1001.50,369.43 L1002.00,344.74 L1002.50,329.08 L1003.00,336.12 L1003.50,350.64 L1004.00,361.40 L1004.50,372.37 L1005.00,383.15 L1005.50,389.37 L1006.00,391.61 L1006.50,392.06 L1007.00,392.50 L1007.50,392.81 L1008.00,392.55 L1008.50,392.78 L1009.00,392.61 L1009.50,392.73 L1010.00,392.89 L1010.50,392.81 L1011.00,392.83 L1011.50,392.50 L1012.00,391.97 L1012.50,391.77 L1013.00,391.36 L1013.50,390.43 L1014.00,389.49 L1014.50,388.34 L1015.00,386.97 L1015.50,386.00 L1016.00,385.35 L1016.50,385.30 L1017.00,385.62 L1017.50,386.25 L1018.00,387.59 L1018.50,388.81 L1019.00,390.02 L1019.50,390.88 L1020.00,391.55 L1020.50,391.95 L1021.00,392.38 L1021.50,392.37 L1022.00,392.50 L1022.50,392.61 L1023.00,392.57 L1023.50,392.38 L1024.00,392.09 L1024.50,391.61 L1025.00,390.47 L1025.50,387.76 L1026.00,383.67 L1026.50,380.44 L1026.70,379.90 L1027.00,380.92 L1027.50,384.42 L1028.00,388.68 L1028.50,390.89 L1029.00,392.14 L1029.50,392.50 L1030.00,392.76 L1030.50,392.88 L1031.00,392.82 L1031.50,392.90 L1032.00,392.89 L1032.50,392.82 L1033.00,392.56 L1033.50,392.63 L1034.00,392.91 L1034.50,392.66 L1035.00,392.99 L1035.50,392.92 L1036.00,392.80 L1036.50,392.52 L1037.00,392.62 L1037.50,392.56 L1038.00,392.83 L1038.50,393.12 L1039.00,393.29 L1039.50,393.21 L1040.00,393.04 L1040.50,392.78 L1041.00,393.00 L1041.50,393.03 L1042.00,393.14 L1042.50,392.99 L1043.00,393.22 L1043.50,392.94 L1044.00,392.85 L1044.50,392.78 L1045.00,392.96 L1045.50,393.21 L1046.00,392.90 L1046.50,393.03 L1047.00,393.17 L1047.50,392.92 L1048.00,392.69 L1048.50,392.88 L1049.00,393.14 L1049.50,393.29 L1050.00,393.28 L1050.50,393.09 L1051.00,393.00 L1051.50,393.01 L1052.00,393.25 L1052.50,393.00 L1053.00,392.87 L1053.50,392.99 L1054.00,393.27 L1054.50,392.95 L1055.00,392.69 L1055.50,392.61 L1056.00,392.84 L1056.50,392.98 L1057.00,392.80 L1057.50,392.71 L1058.00,392.91 L1058.50,393.04 L1059.00,393.13 L1059.50,393.20 L1060.00,392.84 L1060.50,392.91 L1061.00,393.15 L1061.50,393.35 L1062.00,393.06 L1062.50,393.24 L1063.00,393.20 L1063.50,393.36 L1064.00,393.01 L1064.50,393.12 L1065.00,393.26 L1065.50,393.12 L1066.00,392.82 L1066.50,392.72 L1067.00,392.65 L1067.50,392.58 L1068.00,392.58 L1068.50,392.86 L1069.00,392.69 L1069.50,393.00 L1070.00,393.14 L1070.50,393.26 L1071.00,393.31 L1071.50,393.28 L1072.00,393.39 L1072.50,393.47 L1073.00,393.31 L1073.50,393.43 L1074.00,392.98 L1074.50,392.75 L1075.00,392.61 L1075.50,392.63 L1076.00,392.74 L1076.50,392.84 L1077.00,393.03 L1077.50,393.16 L1078.00,392.83 L1078.50,392.85 L1079.00,392.95 L1079.50,392.90 L1080.00,392.72 L1080.50,392.91 L1081.00,392.88 L1081.50,393.05 L1082.00,393.02 L1082.50,393.28 L1083.00,393.41 L1083.50,392.94 L1084.00,393.12 L1084.50,393.19 L1085.00,392.97 L1085.50,392.75 L1086.00,392.86 L1086.50,392.84 L1087.00,393.06 L1087.50,393.28 L1088.00,393.06 L1088.50,392.90 L1089.00,392.95 L1089.50,393.09 L1090.00,393.21 L1090.50,393.15 L1091.00,392.95 L1091.50,392.87 L1092.00,393.14 L1092.50,393.08 L1093.00,392.76 L1093.50,392.83 L1094.00,392.75 L1094.50,392.97 L1095.00,392.72 L1095.50,392.71 L1096.00,392.60 L1096.50,392.77 L1097.00,393.15 L1097.50,393.07 L1098.00,392.92 L1098.50,393.15 L1099.00,392.72 L1099.50,392.61 L1100.00,392.75 L1100.50,392.23 L1101.00,392.30 L1101.50,391.94 L1102.00,391.37 L1102.50,391.05 L1103.00,390.82 L1103.50,390.50 L1104.00,390.29 L1104.50,389.84 L1105.00,389.69 L1105.50,390.13 L1106.00,390.13 L1106.50,390.31 L1107.00,390.35 L1107.50,390.67 L1108.00,391.42 L1108.50,391.81 L1109.00,392.03 L1109.50,391.98 L1110.00,392.25 L1110.50,392.67 L1111.00,392.71 L1111.50,392.85 L1112.00,393.12 L1112.50,393.11 L1113.00,393.09 L1113.50,392.70 L1114.00,392.42 L1114.50,392.47 L1115.00,391.68 L1115.50,390.41 L1116.00,388.13 L1116.50,385.49 L1117.00,383.20 L1117.30,382.70 L1117.50,383.21 L1118.00,385.00 L1118.50,387.29 L1119.00,389.98 L1119.50,391.55 L1120.00,392.70 L1120.50,393.22 L1121.00,392.95 L1121.50,392.92 L1122.00,392.81 L1122.50,392.87 L1123.00,392.79 L1123.50,392.99 L1124.00,392.76 L1124.50,392.67 L1125.00,392.80 L1125.50,392.64 L1126.00,392.74 L1126.50,393.10 L1127.00,393.28 L1127.50,392.95 L1128.00,392.68 L1128.50,393.03 L1129.00,393.29 L1129.50,393.20 L1130.00,392.88 L1130.50,392.78 L1131.00,393.14 L1131.50,393.33 L1132.00,392.88 L1132.50,392.75 L1133.00,392.83 L1133.50,392.77 L1134.00,393.03 L1134.50,392.94 L1135.00,393.13 L1135.50,392.85 L1136.00,392.94 L1136.50,393.25 L1137.00,393.24 L1137.50,392.87 L1138.00,392.70 L1138.50,392.93 L1139.00,392.89 L1139.50,392.86 L1140.00,392.92 L1140.50,393.00 L1141.00,393.28 L1141.50,392.98 L1142.00,393.03 L1142.50,392.87 L1143.00,392.96 L1143.50,393.12 L1144.00,392.84 L1144.50,392.90 L1145.00,393.07 L1145.50,392.74 L1146.00,393.03 L1146.50,392.96 L1147.00,392.98 L1147.50,393.06 L1148.00,393.20 L1148.50,392.83 L1149.00,392.91 L1149.50,392.68 L1150.00,392.77 L1150.50,392.79 L1151.00,392.61 L1151.50,392.68 L1152.00,392.81 L1152.50,392.99 L1153.00,393.25 L1153.50,393.04 L1154.00,393.04 L1154.50,393.14 L1155.00,393.33 L1155.50,393.43 L1156.00,393.51 L1156.50,393.13 L1157.00,392.86 L1157.50,393.19 L1158.00,392.84 L1158.50,392.89 L1159.00,393.08 L1159.50,393.06 L1160.00,392.96 L1160.50,393.23 L1161.00,392.99 L1161.50,393.02 L1162.00,393.21 L1162.50,392.88 L1163.00,392.85 L1163.50,392.92 L1164.00,392.99 L1164.50,392.82 L1165.00,392.88 L1165.50,392.67 L1166.00,392.58 L1166.50,392.69 L1167.00,392.63 L1167.50,393.09 L1168.00,392.90 L1168.50,392.81 L1169.00,393.07 L1169.50,393.17 L1170.00,392.93 L1170.50,393.16 L1171.00,393.14 L1171.50,393.00 L1172.00,393.06 L1172.50,392.87 L1173.00,392.78 L1173.50,393.10 L1174.00,392.99 L1174.50,393.22 L1175.00,392.89 L1175.50,392.70 L1176.00,392.55 L1176.50,392.88 L1177.00,392.92 L1177.50,392.59 L1178.00,392.34 L1178.50,392.31 L1179.00,390.95 L1179.50,387.96 L1180.00,382.20 L1180.50,376.38 L1181.00,372.93 L1181.50,373.49 L1182.00,376.37 L1182.50,379.36 L1182.80,380.98 L1183.00,382.41 L1183.50,385.45 L1184.00,388.51 L1184.50,391.08 L1185.00,392.03 L1185.50,392.35 L1186.00,392.66 L1186.50,392.90 L1187.00,393.16 L1187.50,393.19 L1188.00,392.82 L1188.50,392.98 L1189.00,393.18 L1189.50,392.84 L1190.00,393.06 L1190.50,392.87 L1191.00,392.80 L1191.50,392.59 L1192.00,392.94 L1192.50,392.96 L1193.00,393.21 L1193.50,393.07 L1194.00,392.81 L1194.50,392.72 L1195.00,392.70 L1195.50,393.10 L1196.00,392.86 L1196.50,392.66 L1197.00,392.72 L1197.50,392.58 L1198.00,392.71 L1198.50,392.89 L1199.00,392.98 L1199.50,392.68 L1200.00,392.28 L1200.50,391.56 L1201.00,389.59 L1201.50,385.62 L1202.00,380.79 L1202.50,377.36 L1202.60,376.70 L1203.00,376.25 L1203.50,378.23 L1204.00,381.31 L1204.10,381.99 L1204.50,384.86 L1205.00,388.15 L1205.50,390.54 L1206.00,392.17 L1206.50,392.93 L1207.00,392.88 L1207.50,392.70 L1208.00,392.69" fill="none" stroke="#ff0000" stroke-width="1.8" stroke-linejoin="round"/><rect x="64.2" y="33.2" width="525.4" height="387.5" fill="none" stroke="#262626" stroke-width="2"/><rect x="682" y="35" width="527" height="388" fill="none" stroke="#262626" stroke-width="2"/><path d="M108.0,420.7 L108.0,417.2 M151.8,420.7 L151.8,413.7 M195.6,420.7 L195.6,417.2 M239.3,420.7 L239.3,413.7 M283.1,420.7 L283.1,417.2 M326.9,420.7 L326.9,413.7 M370.7,420.7 L370.7,417.2 M414.5,420.7 L414.5,413.7 M458.3,420.7 L458.3,417.2 M502.0,420.7 L502.0,413.7 M545.8,420.7 L545.8,417.2 M725.9,423 L725.9,419.5 M769.8,423 L769.8,416 M813.7,423 L813.7,419.5 M857.6,423 L857.6,416 M901.5,423 L901.5,419.5 M945.4,423 L945.4,416 M989.3,423 L989.3,419.5 M1033.2,423 L1033.2,416 M1077.1,423 L1077.1,419.5 M1121.0,423 L1121.0,416 M1164.9,423 L1164.9,419.5" stroke="#262626" stroke-width="2" fill="none"/><g fill="#000"><path d="M140.6,48.8 L145.1,54.3 L140.6,59.8 L136.1,54.3 Z"/><path d="M178.4,194.1 L182.9,199.6 L178.4,205.1 L173.9,199.6 Z"/><path d="M306.9,220.4 L311.4,225.9 L306.9,231.4 L302.4,225.9 Z"/><path d="M384.0,219.8 L388.5,225.3 L384.0,230.8 L379.5,225.3 Z"/><path d="M407.6,105.0 L412.1,110.5 L407.6,116.0 L403.1,110.5 Z"/><path d="M582.6,214.4 L587.1,219.9 L582.6,225.4 L578.1,219.9 Z"/><path d="M138.4,240.9 L142.9,246.4 L138.4,251.9 L133.9,246.4 Z"/><path d="M180.1,291.0 L184.6,296.5 L180.1,302.0 L175.6,296.5 Z"/><path d="M305.0,290.7 L309.5,296.2 L305.0,301.7 L300.5,296.2 Z"/><path d="M382.2,291.5 L386.7,297.0 L382.2,302.5 L377.7,297.0 Z"/><path d="M407.4,295.7 L411.9,301.2 L407.4,306.7 L402.9,301.2 Z"/><path d="M139.1,321.4 L143.6,326.9 L139.1,332.4 L134.6,326.9 Z"/><path d="M178.1,362.7 L182.6,368.2 L178.1,373.7 L173.6,368.2 Z"/><path d="M304.7,345.5 L309.2,351.0 L304.7,356.5 L300.2,351.0 Z"/><path d="M382.6,345.5 L387.1,351.0 L382.6,356.5 L378.1,351.0 Z"/><path d="M407.6,376.2 L412.1,381.7 L407.6,387.2 L403.1,381.7 Z"/><path d="M496.5,374.1 L501.0,379.6 L496.5,385.1 L492.0,379.6 Z"/><path d="M561.1,372.9 L565.6,378.4 L561.1,383.9 L556.6,378.4 Z"/><path d="M582.7,372.1 L587.2,377.6 L582.7,383.1 L578.2,377.6 Z"/><path d="M707.2,243.6 L711.7,249.1 L707.2,254.6 L702.7,249.1 Z"/><path d="M755.7,83.0 L760.2,88.5 L755.7,94.0 L751.2,88.5 Z"/><path d="M796.2,138.3 L800.7,143.8 L796.2,149.3 L791.7,143.8 Z"/><path d="M890.2,248.1 L894.7,253.6 L890.2,259.1 L885.7,253.6 Z"/><path d="M914.7,249.7 L919.2,255.2 L914.7,260.7 L910.2,255.2 Z"/><path d="M925.4,227.7 L929.9,233.2 L925.4,238.7 L920.9,233.2 Z"/><path d="M1027.5,126.7 L1032.0,132.2 L1027.5,137.7 L1023.0,132.2 Z"/><path d="M1117.6,229.1 L1122.1,234.6 L1117.6,240.1 L1113.1,234.6 Z"/><path d="M707.9,367.9 L712.4,373.4 L707.9,378.9 L703.4,373.4 Z"/><path d="M757.0,275.9 L761.5,281.4 L757.0,286.9 L752.5,281.4 Z"/><path d="M796.2,337.1 L800.7,342.6 L796.2,348.1 L791.7,342.6 Z"/><path d="M823.7,369.8 L828.2,375.3 L823.7,380.8 L819.2,375.3 Z"/><path d="M886.7,377.3 L891.2,382.8 L886.7,388.3 L882.2,382.8 Z"/><path d="M915.9,365.7 L920.4,371.2 L915.9,376.7 L911.4,371.2 Z"/><path d="M924.2,307.2 L928.7,312.7 L924.2,318.2 L919.7,312.7 Z"/><path d="M1003.4,315.3 L1007.9,320.8 L1003.4,326.3 L998.9,320.8 Z"/><path d="M1016.0,367.6 L1020.5,373.1 L1016.0,378.6 L1011.5,373.1 Z"/><path d="M1027.6,361.5 L1032.1,367.0 L1027.6,372.5 L1023.1,367.0 Z"/><path d="M1118.4,364.3 L1122.9,369.8 L1118.4,375.3 L1113.9,369.8 Z"/><path d="M1181.0,358.3 L1185.5,363.8 L1181.0,369.3 L1176.5,363.8 Z"/><path d="M1202.3,358.3 L1206.8,363.8 L1202.3,369.3 L1197.8,363.8 Z"/><path d="M366.0,50.0 L370.7,56.3 L366.0,62.6 L361.3,56.3 Z"/><path d="M992.4,48.7 L997.1,55.0 L992.4,61.3 L987.7,55.0 Z"/><circle cx="771.4" cy="243.4" r="4.3"/><circle cx="790.2" cy="248.5" r="4.3"/><circle cx="769.6" cy="376.4" r="4.3"/><circle cx="790.9" cy="367.0" r="4.3"/><circle cx="993.8" cy="93.5" r="4.8"/></g><g font-family="Liberation Serif" font-weight="bold" font-size="22" fill="#000"><text x="64.4" y="446.6" font-size="22.6" text-anchor="middle">20</text><text x="682.2" y="449" font-size="22.6" text-anchor="middle">20</text><text x="152.0" y="446.6" font-size="22.6" text-anchor="middle">30</text><text x="770.0" y="449" font-size="22.6" text-anchor="middle">30</text><text x="239.5" y="446.6" font-size="22.6" text-anchor="middle">40</text><text x="857.8" y="449" font-size="22.6" text-anchor="middle">40</text><text x="327.1" y="446.6" font-size="22.6" text-anchor="middle">50</text><text x="945.6" y="449" font-size="22.6" text-anchor="middle">50</text><text x="414.7" y="446.6" font-size="22.6" text-anchor="middle">60</text><text x="1033.4" y="449" font-size="22.6" text-anchor="middle">60</text><text x="502.2" y="446.6" font-size="22.6" text-anchor="middle">70</text><text x="1121.2" y="449" font-size="22.6" text-anchor="middle">70</text><text x="589.8" y="446.6" font-size="22.6" text-anchor="middle">80</text><text x="1209.0" y="449" font-size="22.6" text-anchor="middle">80</text><text x="19.6" y="31.6">(a)</text><text x="639.6" y="29.3">(b)</text><text x="290.5" y="481.5">2<tspan font-weight="normal">θ</tspan>(deg.)</text><text x="912.6" y="484.7">2<tspan font-weight="normal">θ</tspan>(deg.)</text><text transform="translate(37.7,291.6) rotate(-90)">Intensity(a.u.)</text><text transform="translate(656.5,293.9) rotate(-90)">Intensity(a.u.)</text><text x="461.9" y="215.2" font-size="21.4">Remolten</text><text x="450" y="287.6" font-size="21.7">As-sprayed</text><text x="466" y="362.7">Powder</text><text x="1052.3" y="200.7" font-size="21.7">Remolten 100h</text><text x="1044.9" y="347.6">As-sprayed 100h</text><text x="378.3" y="63.1">pyrochlore La<tspan font-size="15" dy="5">2</tspan><tspan dy="-5">Zr</tspan><tspan font-size="15" dy="5">2</tspan><tspan dy="-5">O</tspan><tspan font-size="15" dy="5">7</tspan></text><text x="1004.1" y="61.3">pyrochlore La<tspan font-size="15" dy="5">2</tspan><tspan dy="-5">Zr</tspan><tspan font-size="15" dy="5">2</tspan><tspan dy="-5">O</tspan><tspan font-size="15" dy="5">7</tspan></text><text x="1006.9" y="98.9">tetragonal ZrO<tspan font-size="11">2</tspan></text></g></svg>
</body></html>
